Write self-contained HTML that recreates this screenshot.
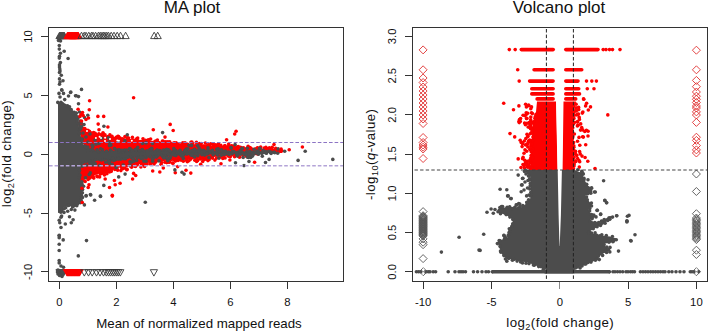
<!DOCTYPE html>
<html><head><meta charset="utf-8"><style>
html,body{margin:0;padding:0;background:#fff;overflow:hidden;width:709px;height:332px;}
svg{display:block;font-family:"Liberation Sans",sans-serif;}
</style></head><body>
<svg width="709" height="332" viewBox="0 0 709 332">
<rect width="709" height="332" fill="#fff"/>
<svg x="49" y="28" width="294" height="253" viewBox="49 28 294 253" overflow="hidden">
<polygon points="80.5,124.5 84.5,127.5 89.5,130.5 95.5,133.0 101.5,134.5 107.5,136.0 126.5,138.5 151.5,141.0 176.5,143.0 201.5,145.0 231.5,146.5 251.5,148.5 271.5,149.0 283.5,150.5 282.0,153.0 250.0,152.5 200.0,152.0 150.0,152.0 100.0,152.0 88.0,150.0 83.0,144.0 80.0,134.0 79.0,127.0" fill="#fd0101"/>
<circle cx="80.0" cy="122.7" r="1.8" fill="#fd0101"/>
<circle cx="79.3" cy="124.3" r="1.8" fill="#fd0101"/>
<circle cx="81.9" cy="124.5" r="1.8" fill="#fd0101"/>
<circle cx="81.8" cy="128.8" r="1.8" fill="#fd0101"/>
<circle cx="83.6" cy="128.5" r="1.8" fill="#fd0101"/>
<circle cx="83.1" cy="130.2" r="1.8" fill="#fd0101"/>
<circle cx="84.8" cy="128.6" r="1.8" fill="#fd0101"/>
<circle cx="87.9" cy="130.3" r="1.8" fill="#fd0101"/>
<circle cx="88.3" cy="131.8" r="1.8" fill="#fd0101"/>
<circle cx="89.4" cy="131.3" r="1.8" fill="#fd0101"/>
<circle cx="89.7" cy="132.5" r="1.8" fill="#fd0101"/>
<circle cx="93.6" cy="132.5" r="1.8" fill="#fd0101"/>
<circle cx="93.1" cy="133.5" r="1.8" fill="#fd0101"/>
<circle cx="95.2" cy="134.4" r="1.8" fill="#fd0101"/>
<circle cx="95.6" cy="135.2" r="1.8" fill="#fd0101"/>
<circle cx="95.2" cy="133.4" r="1.8" fill="#fd0101"/>
<circle cx="96.5" cy="135.7" r="1.8" fill="#fd0101"/>
<circle cx="98.9" cy="133.7" r="1.8" fill="#fd0101"/>
<circle cx="99.4" cy="136.6" r="1.8" fill="#fd0101"/>
<circle cx="99.9" cy="134.7" r="1.8" fill="#fd0101"/>
<circle cx="102.1" cy="136.7" r="1.8" fill="#fd0101"/>
<circle cx="103.0" cy="132.7" r="1.8" fill="#fd0101"/>
<circle cx="101.8" cy="134.7" r="1.8" fill="#fd0101"/>
<circle cx="103.2" cy="133.9" r="1.8" fill="#fd0101"/>
<circle cx="105.0" cy="134.9" r="1.8" fill="#fd0101"/>
<circle cx="107.9" cy="136.5" r="1.8" fill="#fd0101"/>
<circle cx="108.4" cy="136.9" r="1.8" fill="#fd0101"/>
<circle cx="109.9" cy="134.9" r="1.8" fill="#fd0101"/>
<circle cx="110.8" cy="136.6" r="1.8" fill="#fd0101"/>
<circle cx="112.0" cy="136.3" r="1.8" fill="#fd0101"/>
<circle cx="116.2" cy="137.2" r="1.8" fill="#fd0101"/>
<circle cx="116.9" cy="139.1" r="1.8" fill="#fd0101"/>
<circle cx="118.1" cy="136.5" r="1.8" fill="#fd0101"/>
<circle cx="118.7" cy="136.9" r="1.8" fill="#fd0101"/>
<circle cx="118.0" cy="136.4" r="1.8" fill="#fd0101"/>
<circle cx="117.6" cy="137.3" r="1.8" fill="#fd0101"/>
<circle cx="119.9" cy="138.5" r="1.8" fill="#fd0101"/>
<circle cx="120.1" cy="138.0" r="1.8" fill="#fd0101"/>
<circle cx="122.7" cy="138.8" r="1.8" fill="#fd0101"/>
<circle cx="125.0" cy="136.5" r="1.8" fill="#fd0101"/>
<circle cx="125.4" cy="140.6" r="1.8" fill="#fd0101"/>
<circle cx="128.5" cy="138.1" r="1.8" fill="#fd0101"/>
<circle cx="127.5" cy="137.9" r="1.8" fill="#fd0101"/>
<circle cx="132.4" cy="137.4" r="1.8" fill="#fd0101"/>
<circle cx="132.8" cy="141.1" r="1.8" fill="#fd0101"/>
<circle cx="134.8" cy="140.3" r="1.8" fill="#fd0101"/>
<circle cx="137.7" cy="138.0" r="1.8" fill="#fd0101"/>
<circle cx="136.7" cy="138.9" r="1.8" fill="#fd0101"/>
<circle cx="137.0" cy="139.7" r="1.8" fill="#fd0101"/>
<circle cx="143.0" cy="138.7" r="1.8" fill="#fd0101"/>
<circle cx="142.9" cy="141.6" r="1.8" fill="#fd0101"/>
<circle cx="145.6" cy="140.3" r="1.8" fill="#fd0101"/>
<circle cx="144.6" cy="142.0" r="1.8" fill="#fd0101"/>
<circle cx="148.3" cy="139.9" r="1.8" fill="#fd0101"/>
<circle cx="148.4" cy="141.0" r="1.8" fill="#fd0101"/>
<circle cx="149.3" cy="143.4" r="1.8" fill="#fd0101"/>
<circle cx="150.6" cy="139.1" r="1.8" fill="#fd0101"/>
<circle cx="154.5" cy="142.2" r="1.8" fill="#fd0101"/>
<circle cx="153.4" cy="142.3" r="1.8" fill="#fd0101"/>
<circle cx="155.6" cy="141.1" r="1.8" fill="#fd0101"/>
<circle cx="155.5" cy="142.0" r="1.8" fill="#fd0101"/>
<circle cx="157.4" cy="140.0" r="1.8" fill="#fd0101"/>
<circle cx="157.4" cy="142.8" r="1.8" fill="#fd0101"/>
<circle cx="158.0" cy="142.4" r="1.8" fill="#fd0101"/>
<circle cx="158.8" cy="142.9" r="1.8" fill="#fd0101"/>
<circle cx="163.3" cy="141.2" r="1.8" fill="#fd0101"/>
<circle cx="162.4" cy="141.1" r="1.8" fill="#fd0101"/>
<circle cx="162.2" cy="142.4" r="1.8" fill="#fd0101"/>
<circle cx="163.4" cy="143.7" r="1.8" fill="#fd0101"/>
<circle cx="165.8" cy="141.7" r="1.8" fill="#fd0101"/>
<circle cx="164.8" cy="143.3" r="1.8" fill="#fd0101"/>
<circle cx="167.8" cy="141.7" r="1.8" fill="#fd0101"/>
<circle cx="167.8" cy="144.7" r="1.8" fill="#fd0101"/>
<circle cx="169.7" cy="141.9" r="1.8" fill="#fd0101"/>
<circle cx="169.6" cy="143.5" r="1.8" fill="#fd0101"/>
<circle cx="172.7" cy="145.1" r="1.8" fill="#fd0101"/>
<circle cx="174.5" cy="143.3" r="1.8" fill="#fd0101"/>
<circle cx="172.5" cy="143.5" r="1.8" fill="#fd0101"/>
<circle cx="174.1" cy="142.9" r="1.8" fill="#fd0101"/>
<circle cx="176.1" cy="142.7" r="1.8" fill="#fd0101"/>
<circle cx="177.7" cy="143.9" r="1.8" fill="#fd0101"/>
<circle cx="179.6" cy="145.9" r="1.8" fill="#fd0101"/>
<circle cx="182.8" cy="142.9" r="1.8" fill="#fd0101"/>
<circle cx="182.3" cy="143.9" r="1.8" fill="#fd0101"/>
<circle cx="185.0" cy="142.8" r="1.8" fill="#fd0101"/>
<circle cx="184.4" cy="145.1" r="1.8" fill="#fd0101"/>
<circle cx="187.6" cy="144.2" r="1.8" fill="#fd0101"/>
<circle cx="186.6" cy="144.2" r="1.8" fill="#fd0101"/>
<circle cx="186.8" cy="144.6" r="1.8" fill="#fd0101"/>
<circle cx="190.9" cy="142.3" r="1.8" fill="#fd0101"/>
<circle cx="191.9" cy="142.1" r="1.8" fill="#fd0101"/>
<circle cx="192.7" cy="143.8" r="1.8" fill="#fd0101"/>
<circle cx="196.4" cy="142.4" r="1.8" fill="#fd0101"/>
<circle cx="195.6" cy="145.7" r="1.8" fill="#fd0101"/>
<circle cx="199.0" cy="144.3" r="1.8" fill="#fd0101"/>
<circle cx="198.9" cy="144.7" r="1.8" fill="#fd0101"/>
<circle cx="199.6" cy="143.6" r="1.8" fill="#fd0101"/>
<circle cx="199.6" cy="145.9" r="1.8" fill="#fd0101"/>
<circle cx="201.2" cy="143.5" r="1.8" fill="#fd0101"/>
<circle cx="202.9" cy="146.1" r="1.8" fill="#fd0101"/>
<circle cx="205.4" cy="143.1" r="1.8" fill="#fd0101"/>
<circle cx="204.2" cy="146.1" r="1.8" fill="#fd0101"/>
<circle cx="207.7" cy="145.3" r="1.8" fill="#fd0101"/>
<circle cx="209.2" cy="145.2" r="1.8" fill="#fd0101"/>
<circle cx="208.3" cy="144.7" r="1.8" fill="#fd0101"/>
<circle cx="210.8" cy="143.9" r="1.8" fill="#fd0101"/>
<circle cx="209.3" cy="147.6" r="1.8" fill="#fd0101"/>
<circle cx="213.2" cy="144.0" r="1.8" fill="#fd0101"/>
<circle cx="213.6" cy="145.3" r="1.8" fill="#fd0101"/>
<circle cx="216.0" cy="146.6" r="1.8" fill="#fd0101"/>
<circle cx="214.3" cy="148.2" r="1.8" fill="#fd0101"/>
<circle cx="215.4" cy="144.7" r="1.8" fill="#fd0101"/>
<circle cx="216.6" cy="145.6" r="1.8" fill="#fd0101"/>
<circle cx="218.4" cy="143.8" r="1.8" fill="#fd0101"/>
<circle cx="217.9" cy="145.1" r="1.8" fill="#fd0101"/>
<circle cx="220.8" cy="145.4" r="1.8" fill="#fd0101"/>
<circle cx="221.0" cy="147.6" r="1.8" fill="#fd0101"/>
<circle cx="223.3" cy="147.1" r="1.8" fill="#fd0101"/>
<circle cx="224.3" cy="147.5" r="1.8" fill="#fd0101"/>
<circle cx="225.0" cy="145.9" r="1.8" fill="#fd0101"/>
<circle cx="224.8" cy="145.8" r="1.8" fill="#fd0101"/>
<circle cx="227.9" cy="146.7" r="1.8" fill="#fd0101"/>
<circle cx="227.2" cy="148.6" r="1.8" fill="#fd0101"/>
<circle cx="228.7" cy="144.1" r="1.8" fill="#fd0101"/>
<circle cx="229.0" cy="145.9" r="1.8" fill="#fd0101"/>
<circle cx="232.0" cy="146.4" r="1.8" fill="#fd0101"/>
<circle cx="231.6" cy="145.8" r="1.8" fill="#fd0101"/>
<circle cx="233.6" cy="146.2" r="1.8" fill="#fd0101"/>
<circle cx="232.6" cy="148.5" r="1.8" fill="#fd0101"/>
<circle cx="233.9" cy="147.0" r="1.8" fill="#fd0101"/>
<circle cx="235.1" cy="149.5" r="1.8" fill="#fd0101"/>
<circle cx="236.9" cy="147.1" r="1.8" fill="#fd0101"/>
<circle cx="237.3" cy="148.5" r="1.8" fill="#fd0101"/>
<circle cx="237.6" cy="147.4" r="1.8" fill="#fd0101"/>
<circle cx="238.3" cy="146.5" r="1.8" fill="#fd0101"/>
<circle cx="240.5" cy="147.4" r="1.8" fill="#fd0101"/>
<circle cx="239.6" cy="148.4" r="1.8" fill="#fd0101"/>
<circle cx="242.0" cy="148.4" r="1.8" fill="#fd0101"/>
<circle cx="244.1" cy="150.2" r="1.8" fill="#fd0101"/>
<circle cx="244.8" cy="148.8" r="1.8" fill="#fd0101"/>
<circle cx="243.5" cy="147.7" r="1.8" fill="#fd0101"/>
<circle cx="248.1" cy="146.3" r="1.8" fill="#fd0101"/>
<circle cx="249.0" cy="147.9" r="1.8" fill="#fd0101"/>
<circle cx="250.6" cy="148.4" r="1.8" fill="#fd0101"/>
<circle cx="250.6" cy="149.3" r="1.8" fill="#fd0101"/>
<circle cx="250.0" cy="147.6" r="1.8" fill="#fd0101"/>
<circle cx="249.2" cy="148.8" r="1.8" fill="#fd0101"/>
<circle cx="251.4" cy="148.7" r="1.8" fill="#fd0101"/>
<circle cx="251.7" cy="150.9" r="1.8" fill="#fd0101"/>
<circle cx="255.1" cy="149.1" r="1.8" fill="#fd0101"/>
<circle cx="257.7" cy="147.7" r="1.8" fill="#fd0101"/>
<circle cx="256.9" cy="148.2" r="1.8" fill="#fd0101"/>
<circle cx="260.7" cy="147.1" r="1.8" fill="#fd0101"/>
<circle cx="259.7" cy="148.5" r="1.8" fill="#fd0101"/>
<circle cx="264.6" cy="149.6" r="1.8" fill="#fd0101"/>
<circle cx="264.2" cy="148.1" r="1.8" fill="#fd0101"/>
<circle cx="266.1" cy="148.6" r="1.8" fill="#fd0101"/>
<circle cx="264.4" cy="151.2" r="1.8" fill="#fd0101"/>
<circle cx="265.9" cy="147.4" r="1.8" fill="#fd0101"/>
<circle cx="267.4" cy="148.9" r="1.8" fill="#fd0101"/>
<circle cx="269.4" cy="147.9" r="1.8" fill="#fd0101"/>
<circle cx="268.5" cy="148.8" r="1.8" fill="#fd0101"/>
<circle cx="271.1" cy="149.9" r="1.8" fill="#fd0101"/>
<circle cx="272.2" cy="147.2" r="1.8" fill="#fd0101"/>
<circle cx="271.9" cy="149.3" r="1.8" fill="#fd0101"/>
<circle cx="275.4" cy="149.7" r="1.8" fill="#fd0101"/>
<circle cx="274.3" cy="150.5" r="1.8" fill="#fd0101"/>
<circle cx="275.7" cy="148.3" r="1.8" fill="#fd0101"/>
<circle cx="278.6" cy="150.6" r="1.8" fill="#fd0101"/>
<circle cx="277.7" cy="150.0" r="1.8" fill="#fd0101"/>
<circle cx="281.9" cy="150.8" r="1.8" fill="#fd0101"/>
<polygon points="80.0,159.0 84.0,158.8 88.0,158.5 92.0,158.1 96.0,157.8 100.0,157.4 104.0,157.0 108.0,156.7 112.0,156.3 116.0,156.1 120.0,155.8 124.0,155.4 128.0,155.2 132.0,154.8 136.0,154.6 140.0,154.2 144.0,153.9 148.0,153.7 152.0,153.4 156.0,153.3 160.0,153.1 164.0,152.9 168.0,152.8 172.0,152.6 176.0,152.5 180.0,152.3 184.0,152.1 188.0,152.0 192.0,151.8 196.0,151.7 200.0,151.5 204.0,151.4 208.0,151.4 212.0,151.3 216.0,151.2 220.0,151.2 224.0,151.1 228.0,151.0 232.0,150.9 236.0,150.7 240.0,150.5 244.0,150.3 248.0,150.1 252.0,150.0 256.0,150.0 260.0,150.0 260.0,152.5 256.0,152.7 252.0,152.9 248.0,153.2 244.0,153.4 240.0,153.8 236.0,154.1 232.0,154.3 228.0,154.8 224.0,155.5 220.0,156.2 216.0,156.8 212.0,157.3 208.0,157.7 204.0,158.1 200.0,158.5 196.0,158.7 192.0,159.0 188.0,159.2 184.0,159.5 180.0,159.7 176.0,159.9 172.0,160.2 168.0,160.6 164.0,160.9 160.0,161.2 156.0,161.5 152.0,161.8 148.0,162.4 144.0,163.2 140.0,164.0 136.0,164.7 132.0,165.4 128.0,166.1 124.0,166.8 120.0,167.5 116.0,168.5 112.0,169.5 108.0,170.7 104.0,172.1 100.0,173.5 96.0,174.8 92.0,176.0 88.0,177.7 84.0,180.2 80.0,183.5" fill="#fd0101"/>
<circle cx="79.1" cy="184.5" r="1.8" fill="#fd0101"/>
<circle cx="82.2" cy="185.3" r="1.8" fill="#fd0101"/>
<circle cx="82.9" cy="180.8" r="1.8" fill="#fd0101"/>
<circle cx="85.2" cy="181.5" r="1.8" fill="#fd0101"/>
<circle cx="86.4" cy="177.1" r="1.8" fill="#fd0101"/>
<circle cx="88.3" cy="178.5" r="1.8" fill="#fd0101"/>
<circle cx="88.1" cy="179.4" r="1.8" fill="#fd0101"/>
<circle cx="89.5" cy="177.1" r="1.8" fill="#fd0101"/>
<circle cx="89.6" cy="178.3" r="1.8" fill="#fd0101"/>
<circle cx="92.3" cy="177.1" r="1.8" fill="#fd0101"/>
<circle cx="91.1" cy="176.1" r="1.8" fill="#fd0101"/>
<circle cx="93.8" cy="178.1" r="1.8" fill="#fd0101"/>
<circle cx="93.0" cy="176.2" r="1.8" fill="#fd0101"/>
<circle cx="96.9" cy="176.0" r="1.8" fill="#fd0101"/>
<circle cx="97.5" cy="176.8" r="1.8" fill="#fd0101"/>
<circle cx="99.6" cy="176.9" r="1.8" fill="#fd0101"/>
<circle cx="100.3" cy="173.9" r="1.8" fill="#fd0101"/>
<circle cx="102.3" cy="173.1" r="1.8" fill="#fd0101"/>
<circle cx="101.1" cy="173.5" r="1.8" fill="#fd0101"/>
<circle cx="104.4" cy="174.9" r="1.8" fill="#fd0101"/>
<circle cx="104.5" cy="172.2" r="1.8" fill="#fd0101"/>
<circle cx="106.9" cy="173.8" r="1.8" fill="#fd0101"/>
<circle cx="107.4" cy="171.5" r="1.8" fill="#fd0101"/>
<circle cx="108.9" cy="170.9" r="1.8" fill="#fd0101"/>
<circle cx="109.4" cy="172.0" r="1.8" fill="#fd0101"/>
<circle cx="110.9" cy="171.4" r="1.8" fill="#fd0101"/>
<circle cx="111.4" cy="169.6" r="1.8" fill="#fd0101"/>
<circle cx="111.1" cy="171.2" r="1.8" fill="#fd0101"/>
<circle cx="114.8" cy="169.4" r="1.8" fill="#fd0101"/>
<circle cx="115.0" cy="167.6" r="1.8" fill="#fd0101"/>
<circle cx="115.4" cy="168.7" r="1.8" fill="#fd0101"/>
<circle cx="115.1" cy="168.1" r="1.8" fill="#fd0101"/>
<circle cx="117.7" cy="170.3" r="1.8" fill="#fd0101"/>
<circle cx="117.0" cy="168.9" r="1.8" fill="#fd0101"/>
<circle cx="120.9" cy="170.6" r="1.8" fill="#fd0101"/>
<circle cx="121.7" cy="167.8" r="1.8" fill="#fd0101"/>
<circle cx="123.1" cy="168.6" r="1.8" fill="#fd0101"/>
<circle cx="124.8" cy="168.0" r="1.8" fill="#fd0101"/>
<circle cx="126.8" cy="169.8" r="1.8" fill="#fd0101"/>
<circle cx="126.6" cy="165.7" r="1.8" fill="#fd0101"/>
<circle cx="127.1" cy="169.4" r="1.8" fill="#fd0101"/>
<circle cx="130.5" cy="166.1" r="1.8" fill="#fd0101"/>
<circle cx="129.5" cy="164.3" r="1.8" fill="#fd0101"/>
<circle cx="131.5" cy="166.4" r="1.8" fill="#fd0101"/>
<circle cx="131.6" cy="167.3" r="1.8" fill="#fd0101"/>
<circle cx="134.8" cy="166.3" r="1.8" fill="#fd0101"/>
<circle cx="135.5" cy="166.5" r="1.8" fill="#fd0101"/>
<circle cx="137.5" cy="164.7" r="1.8" fill="#fd0101"/>
<circle cx="140.9" cy="166.9" r="1.8" fill="#fd0101"/>
<circle cx="142.6" cy="164.4" r="1.8" fill="#fd0101"/>
<circle cx="141.7" cy="164.4" r="1.8" fill="#fd0101"/>
<circle cx="144.6" cy="166.4" r="1.8" fill="#fd0101"/>
<circle cx="144.5" cy="164.2" r="1.8" fill="#fd0101"/>
<circle cx="145.1" cy="164.4" r="1.8" fill="#fd0101"/>
<circle cx="147.0" cy="161.6" r="1.8" fill="#fd0101"/>
<circle cx="147.2" cy="164.0" r="1.8" fill="#fd0101"/>
<circle cx="150.4" cy="163.9" r="1.8" fill="#fd0101"/>
<circle cx="149.8" cy="161.7" r="1.8" fill="#fd0101"/>
<circle cx="152.5" cy="162.4" r="1.8" fill="#fd0101"/>
<circle cx="151.2" cy="160.8" r="1.8" fill="#fd0101"/>
<circle cx="154.1" cy="163.9" r="1.8" fill="#fd0101"/>
<circle cx="153.4" cy="162.7" r="1.8" fill="#fd0101"/>
<circle cx="155.3" cy="161.9" r="1.8" fill="#fd0101"/>
<circle cx="155.7" cy="162.0" r="1.8" fill="#fd0101"/>
<circle cx="157.5" cy="160.4" r="1.8" fill="#fd0101"/>
<circle cx="161.0" cy="164.3" r="1.8" fill="#fd0101"/>
<circle cx="160.6" cy="160.2" r="1.8" fill="#fd0101"/>
<circle cx="161.6" cy="162.5" r="1.8" fill="#fd0101"/>
<circle cx="164.9" cy="162.3" r="1.8" fill="#fd0101"/>
<circle cx="166.7" cy="162.6" r="1.8" fill="#fd0101"/>
<circle cx="166.6" cy="159.3" r="1.8" fill="#fd0101"/>
<circle cx="168.2" cy="161.9" r="1.8" fill="#fd0101"/>
<circle cx="167.7" cy="162.0" r="1.8" fill="#fd0101"/>
<circle cx="169.5" cy="161.8" r="1.8" fill="#fd0101"/>
<circle cx="169.4" cy="162.3" r="1.8" fill="#fd0101"/>
<circle cx="172.4" cy="163.1" r="1.8" fill="#fd0101"/>
<circle cx="171.4" cy="159.4" r="1.8" fill="#fd0101"/>
<circle cx="173.1" cy="163.2" r="1.8" fill="#fd0101"/>
<circle cx="174.1" cy="159.7" r="1.8" fill="#fd0101"/>
<circle cx="175.3" cy="161.0" r="1.8" fill="#fd0101"/>
<circle cx="175.6" cy="160.8" r="1.8" fill="#fd0101"/>
<circle cx="178.1" cy="160.5" r="1.8" fill="#fd0101"/>
<circle cx="180.7" cy="159.7" r="1.8" fill="#fd0101"/>
<circle cx="179.4" cy="159.1" r="1.8" fill="#fd0101"/>
<circle cx="181.0" cy="159.9" r="1.8" fill="#fd0101"/>
<circle cx="182.6" cy="160.1" r="1.8" fill="#fd0101"/>
<circle cx="183.3" cy="161.3" r="1.8" fill="#fd0101"/>
<circle cx="186.3" cy="159.7" r="1.8" fill="#fd0101"/>
<circle cx="186.2" cy="159.9" r="1.8" fill="#fd0101"/>
<circle cx="187.3" cy="161.7" r="1.8" fill="#fd0101"/>
<circle cx="188.9" cy="160.7" r="1.8" fill="#fd0101"/>
<circle cx="190.6" cy="159.2" r="1.8" fill="#fd0101"/>
<circle cx="189.3" cy="157.7" r="1.8" fill="#fd0101"/>
<circle cx="191.1" cy="157.6" r="1.8" fill="#fd0101"/>
<circle cx="194.8" cy="160.2" r="1.8" fill="#fd0101"/>
<circle cx="196.6" cy="161.5" r="1.8" fill="#fd0101"/>
<circle cx="196.7" cy="157.7" r="1.8" fill="#fd0101"/>
<circle cx="197.4" cy="160.7" r="1.8" fill="#fd0101"/>
<circle cx="197.8" cy="160.1" r="1.8" fill="#fd0101"/>
<circle cx="200.4" cy="158.9" r="1.8" fill="#fd0101"/>
<circle cx="200.1" cy="157.7" r="1.8" fill="#fd0101"/>
<circle cx="202.7" cy="161.4" r="1.8" fill="#fd0101"/>
<circle cx="202.1" cy="158.0" r="1.8" fill="#fd0101"/>
<circle cx="203.8" cy="159.6" r="1.8" fill="#fd0101"/>
<circle cx="204.3" cy="158.4" r="1.8" fill="#fd0101"/>
<circle cx="205.0" cy="159.2" r="1.8" fill="#fd0101"/>
<circle cx="205.5" cy="157.1" r="1.8" fill="#fd0101"/>
<circle cx="207.9" cy="160.6" r="1.8" fill="#fd0101"/>
<circle cx="207.2" cy="159.2" r="1.8" fill="#fd0101"/>
<circle cx="209.2" cy="159.5" r="1.8" fill="#fd0101"/>
<circle cx="209.1" cy="157.2" r="1.8" fill="#fd0101"/>
<circle cx="212.5" cy="158.1" r="1.8" fill="#fd0101"/>
<circle cx="211.1" cy="157.4" r="1.8" fill="#fd0101"/>
<circle cx="214.9" cy="160.1" r="1.8" fill="#fd0101"/>
<circle cx="216.6" cy="158.1" r="1.8" fill="#fd0101"/>
<circle cx="218.9" cy="155.2" r="1.8" fill="#fd0101"/>
<circle cx="220.6" cy="156.4" r="1.8" fill="#fd0101"/>
<circle cx="219.7" cy="155.4" r="1.8" fill="#fd0101"/>
<circle cx="222.8" cy="158.4" r="1.8" fill="#fd0101"/>
<circle cx="224.0" cy="155.8" r="1.8" fill="#fd0101"/>
<circle cx="223.5" cy="155.6" r="1.8" fill="#fd0101"/>
<circle cx="225.1" cy="158.0" r="1.8" fill="#fd0101"/>
<circle cx="226.9" cy="154.7" r="1.8" fill="#fd0101"/>
<circle cx="228.6" cy="156.3" r="1.8" fill="#fd0101"/>
<circle cx="230.3" cy="156.7" r="1.8" fill="#fd0101"/>
<circle cx="232.2" cy="154.8" r="1.8" fill="#fd0101"/>
<circle cx="233.0" cy="154.0" r="1.8" fill="#fd0101"/>
<circle cx="234.6" cy="156.8" r="1.8" fill="#fd0101"/>
<circle cx="235.7" cy="154.9" r="1.8" fill="#fd0101"/>
<circle cx="235.4" cy="153.3" r="1.8" fill="#fd0101"/>
<circle cx="238.6" cy="156.5" r="1.8" fill="#fd0101"/>
<circle cx="239.0" cy="153.7" r="1.8" fill="#fd0101"/>
<circle cx="239.6" cy="157.2" r="1.8" fill="#fd0101"/>
<circle cx="239.3" cy="153.5" r="1.8" fill="#fd0101"/>
<circle cx="242.0" cy="154.0" r="1.8" fill="#fd0101"/>
<circle cx="241.5" cy="153.2" r="1.8" fill="#fd0101"/>
<circle cx="243.0" cy="155.7" r="1.8" fill="#fd0101"/>
<circle cx="243.7" cy="154.6" r="1.8" fill="#fd0101"/>
<circle cx="246.2" cy="156.1" r="1.8" fill="#fd0101"/>
<circle cx="245.9" cy="154.7" r="1.8" fill="#fd0101"/>
<circle cx="247.3" cy="154.7" r="1.8" fill="#fd0101"/>
<circle cx="250.7" cy="153.8" r="1.8" fill="#fd0101"/>
<circle cx="249.5" cy="154.9" r="1.8" fill="#fd0101"/>
<circle cx="252.1" cy="155.2" r="1.8" fill="#fd0101"/>
<circle cx="251.9" cy="151.5" r="1.8" fill="#fd0101"/>
<circle cx="253.5" cy="153.1" r="1.8" fill="#fd0101"/>
<circle cx="254.1" cy="153.3" r="1.8" fill="#fd0101"/>
<circle cx="255.1" cy="153.5" r="1.8" fill="#fd0101"/>
<circle cx="256.1" cy="151.3" r="1.8" fill="#fd0101"/>
<circle cx="257.4" cy="154.0" r="1.8" fill="#fd0101"/>
<circle cx="258.3" cy="151.7" r="1.8" fill="#fd0101"/>
<polygon points="58.0,103.0 60.0,101.5 62.0,102.0 66.0,104.0 69.5,107.0 74.5,112.0 76.7,117.0 78.0,122.0 79.0,127.0 80.0,132.0 81.0,137.0 82.0,142.0 84.0,147.0 90.0,149.5 96.0,150.5 106.0,151.0 114.0,151.0 122.0,151.0 130.0,151.0 138.0,150.8 146.0,150.6 154.0,150.5 162.0,150.6 170.0,150.7 178.0,150.8 186.0,150.9 194.0,150.9 202.0,151.0 210.0,151.1 218.0,151.2 226.0,151.3 234.0,151.3 242.0,151.4 250.0,151.5 258.0,151.7 266.0,151.9 274.0,152.2 279.0,153.0 276.0,153.0 268.0,153.0 260.0,153.0 252.0,153.0 244.0,153.3 236.0,153.7 228.0,154.0 220.0,154.2 212.0,154.3 204.0,154.4 196.0,154.7 188.0,155.0 180.0,155.3 172.0,155.6 164.0,155.9 156.0,156.3 148.0,156.7 140.0,157.2 132.0,157.8 124.0,158.4 116.0,159.1 108.0,159.7 100.0,160.4 92.0,161.1 82.0,164.0 80.5,170.0 80.5,180.0 82.6,186.0 82.0,192.0 81.5,200.0 80.5,203.0 78.5,205.3 70.0,206.5 64.0,207.0 63.0,210.0 60.5,212.5 58.0,213.0" fill="#4c4c4c"/>
<circle cx="57.8" cy="102.4" r="1.8" fill="#4c4c4c"/>
<circle cx="61.0" cy="102.2" r="1.8" fill="#4c4c4c"/>
<circle cx="62.5" cy="103.7" r="1.8" fill="#4c4c4c"/>
<circle cx="67.5" cy="105.9" r="1.8" fill="#4c4c4c"/>
<circle cx="69.5" cy="106.7" r="1.8" fill="#4c4c4c"/>
<circle cx="71.2" cy="109.5" r="1.8" fill="#4c4c4c"/>
<circle cx="75.5" cy="114.0" r="1.8" fill="#4c4c4c"/>
<circle cx="75.5" cy="115.7" r="1.8" fill="#4c4c4c"/>
<circle cx="77.7" cy="118.4" r="1.8" fill="#4c4c4c"/>
<circle cx="78.5" cy="123.9" r="1.8" fill="#4c4c4c"/>
<circle cx="80.0" cy="126.5" r="1.8" fill="#4c4c4c"/>
<circle cx="79.5" cy="133.4" r="1.8" fill="#4c4c4c"/>
<circle cx="82.2" cy="139.4" r="1.8" fill="#4c4c4c"/>
<circle cx="82.1" cy="142.7" r="1.8" fill="#4c4c4c"/>
<circle cx="83.9" cy="146.3" r="1.8" fill="#4c4c4c"/>
<circle cx="86.3" cy="147.4" r="1.8" fill="#4c4c4c"/>
<circle cx="89.0" cy="149.7" r="1.8" fill="#4c4c4c"/>
<circle cx="91.3" cy="149.8" r="1.8" fill="#4c4c4c"/>
<circle cx="92.9" cy="150.4" r="1.8" fill="#4c4c4c"/>
<circle cx="97.1" cy="149.7" r="1.8" fill="#4c4c4c"/>
<circle cx="98.4" cy="151.7" r="1.8" fill="#4c4c4c"/>
<circle cx="102.5" cy="149.7" r="1.8" fill="#4c4c4c"/>
<circle cx="106.5" cy="151.3" r="1.8" fill="#4c4c4c"/>
<circle cx="110.4" cy="150.0" r="1.8" fill="#4c4c4c"/>
<circle cx="112.0" cy="151.8" r="1.8" fill="#4c4c4c"/>
<circle cx="116.3" cy="150.0" r="1.8" fill="#4c4c4c"/>
<circle cx="119.0" cy="152.1" r="1.8" fill="#4c4c4c"/>
<circle cx="118.8" cy="150.1" r="1.8" fill="#4c4c4c"/>
<circle cx="122.9" cy="151.7" r="1.8" fill="#4c4c4c"/>
<circle cx="126.5" cy="151.3" r="1.8" fill="#4c4c4c"/>
<circle cx="126.8" cy="150.0" r="1.8" fill="#4c4c4c"/>
<circle cx="130.5" cy="150.5" r="1.8" fill="#4c4c4c"/>
<circle cx="132.2" cy="150.3" r="1.8" fill="#4c4c4c"/>
<circle cx="136.3" cy="150.5" r="1.8" fill="#4c4c4c"/>
<circle cx="139.6" cy="150.8" r="1.8" fill="#4c4c4c"/>
<circle cx="142.3" cy="149.6" r="1.8" fill="#4c4c4c"/>
<circle cx="143.8" cy="151.3" r="1.8" fill="#4c4c4c"/>
<circle cx="147.0" cy="150.7" r="1.8" fill="#4c4c4c"/>
<circle cx="149.9" cy="149.6" r="1.8" fill="#4c4c4c"/>
<circle cx="151.9" cy="149.4" r="1.8" fill="#4c4c4c"/>
<circle cx="155.0" cy="151.7" r="1.8" fill="#4c4c4c"/>
<circle cx="156.7" cy="150.5" r="1.8" fill="#4c4c4c"/>
<circle cx="159.9" cy="150.6" r="1.8" fill="#4c4c4c"/>
<circle cx="163.4" cy="150.1" r="1.8" fill="#4c4c4c"/>
<circle cx="165.7" cy="150.0" r="1.8" fill="#4c4c4c"/>
<circle cx="168.4" cy="149.7" r="1.8" fill="#4c4c4c"/>
<circle cx="170.0" cy="151.4" r="1.8" fill="#4c4c4c"/>
<circle cx="174.5" cy="151.0" r="1.8" fill="#4c4c4c"/>
<circle cx="175.7" cy="150.5" r="1.8" fill="#4c4c4c"/>
<circle cx="178.4" cy="151.7" r="1.8" fill="#4c4c4c"/>
<circle cx="180.0" cy="150.2" r="1.8" fill="#4c4c4c"/>
<circle cx="184.8" cy="150.6" r="1.8" fill="#4c4c4c"/>
<circle cx="186.8" cy="150.8" r="1.8" fill="#4c4c4c"/>
<circle cx="190.1" cy="151.5" r="1.8" fill="#4c4c4c"/>
<circle cx="192.0" cy="150.5" r="1.8" fill="#4c4c4c"/>
<circle cx="195.1" cy="151.3" r="1.8" fill="#4c4c4c"/>
<circle cx="197.1" cy="150.8" r="1.8" fill="#4c4c4c"/>
<circle cx="200.8" cy="150.1" r="1.8" fill="#4c4c4c"/>
<circle cx="203.7" cy="150.4" r="1.8" fill="#4c4c4c"/>
<circle cx="204.5" cy="151.5" r="1.8" fill="#4c4c4c"/>
<circle cx="207.9" cy="150.3" r="1.8" fill="#4c4c4c"/>
<circle cx="210.0" cy="151.2" r="1.8" fill="#4c4c4c"/>
<circle cx="212.5" cy="150.4" r="1.8" fill="#4c4c4c"/>
<circle cx="217.4" cy="150.2" r="1.8" fill="#4c4c4c"/>
<circle cx="218.6" cy="150.9" r="1.8" fill="#4c4c4c"/>
<circle cx="222.9" cy="151.8" r="1.8" fill="#4c4c4c"/>
<circle cx="223.3" cy="151.6" r="1.8" fill="#4c4c4c"/>
<circle cx="225.5" cy="151.0" r="1.8" fill="#4c4c4c"/>
<circle cx="228.5" cy="152.0" r="1.8" fill="#4c4c4c"/>
<circle cx="232.4" cy="151.6" r="1.8" fill="#4c4c4c"/>
<circle cx="233.9" cy="151.6" r="1.8" fill="#4c4c4c"/>
<circle cx="237.9" cy="152.4" r="1.8" fill="#4c4c4c"/>
<circle cx="240.2" cy="152.0" r="1.8" fill="#4c4c4c"/>
<circle cx="242.0" cy="152.0" r="1.8" fill="#4c4c4c"/>
<circle cx="246.7" cy="151.9" r="1.8" fill="#4c4c4c"/>
<circle cx="249.1" cy="151.8" r="1.8" fill="#4c4c4c"/>
<circle cx="250.3" cy="151.8" r="1.8" fill="#4c4c4c"/>
<circle cx="252.6" cy="152.2" r="1.8" fill="#4c4c4c"/>
<circle cx="256.8" cy="151.1" r="1.8" fill="#4c4c4c"/>
<circle cx="258.6" cy="152.0" r="1.8" fill="#4c4c4c"/>
<circle cx="261.7" cy="152.8" r="1.8" fill="#4c4c4c"/>
<circle cx="264.0" cy="152.5" r="1.8" fill="#4c4c4c"/>
<circle cx="266.6" cy="153.1" r="1.8" fill="#4c4c4c"/>
<circle cx="268.8" cy="151.2" r="1.8" fill="#4c4c4c"/>
<circle cx="273.6" cy="152.2" r="1.8" fill="#4c4c4c"/>
<circle cx="274.5" cy="152.3" r="1.8" fill="#4c4c4c"/>
<circle cx="277.7" cy="153.3" r="1.8" fill="#4c4c4c"/>
<circle cx="274.7" cy="152.8" r="1.8" fill="#4c4c4c"/>
<circle cx="271.1" cy="153.4" r="1.8" fill="#4c4c4c"/>
<circle cx="270.7" cy="152.1" r="1.8" fill="#4c4c4c"/>
<circle cx="266.1" cy="151.9" r="1.8" fill="#4c4c4c"/>
<circle cx="264.7" cy="151.8" r="1.8" fill="#4c4c4c"/>
<circle cx="261.8" cy="153.5" r="1.8" fill="#4c4c4c"/>
<circle cx="258.9" cy="152.3" r="1.8" fill="#4c4c4c"/>
<circle cx="257.2" cy="153.1" r="1.8" fill="#4c4c4c"/>
<circle cx="255.0" cy="152.7" r="1.8" fill="#4c4c4c"/>
<circle cx="250.8" cy="153.7" r="1.8" fill="#4c4c4c"/>
<circle cx="248.4" cy="153.1" r="1.8" fill="#4c4c4c"/>
<circle cx="245.1" cy="154.3" r="1.8" fill="#4c4c4c"/>
<circle cx="243.8" cy="154.1" r="1.8" fill="#4c4c4c"/>
<circle cx="240.0" cy="153.0" r="1.8" fill="#4c4c4c"/>
<circle cx="236.9" cy="154.4" r="1.8" fill="#4c4c4c"/>
<circle cx="236.3" cy="153.2" r="1.8" fill="#4c4c4c"/>
<circle cx="232.1" cy="153.7" r="1.8" fill="#4c4c4c"/>
<circle cx="229.2" cy="154.5" r="1.8" fill="#4c4c4c"/>
<circle cx="226.9" cy="153.6" r="1.8" fill="#4c4c4c"/>
<circle cx="224.4" cy="154.4" r="1.8" fill="#4c4c4c"/>
<circle cx="221.3" cy="155.2" r="1.8" fill="#4c4c4c"/>
<circle cx="217.6" cy="155.0" r="1.8" fill="#4c4c4c"/>
<circle cx="216.6" cy="153.4" r="1.8" fill="#4c4c4c"/>
<circle cx="213.7" cy="153.1" r="1.8" fill="#4c4c4c"/>
<circle cx="213.1" cy="154.7" r="1.8" fill="#4c4c4c"/>
<circle cx="208.0" cy="153.5" r="1.8" fill="#4c4c4c"/>
<circle cx="207.0" cy="154.0" r="1.8" fill="#4c4c4c"/>
<circle cx="204.7" cy="155.1" r="1.8" fill="#4c4c4c"/>
<circle cx="202.0" cy="154.8" r="1.8" fill="#4c4c4c"/>
<circle cx="197.8" cy="155.6" r="1.8" fill="#4c4c4c"/>
<circle cx="195.6" cy="154.0" r="1.8" fill="#4c4c4c"/>
<circle cx="192.3" cy="155.4" r="1.8" fill="#4c4c4c"/>
<circle cx="190.9" cy="155.0" r="1.8" fill="#4c4c4c"/>
<circle cx="186.9" cy="154.1" r="1.8" fill="#4c4c4c"/>
<circle cx="183.5" cy="155.0" r="1.8" fill="#4c4c4c"/>
<circle cx="182.4" cy="155.2" r="1.8" fill="#4c4c4c"/>
<circle cx="180.0" cy="154.2" r="1.8" fill="#4c4c4c"/>
<circle cx="175.9" cy="155.6" r="1.8" fill="#4c4c4c"/>
<circle cx="174.4" cy="155.3" r="1.8" fill="#4c4c4c"/>
<circle cx="172.4" cy="154.6" r="1.8" fill="#4c4c4c"/>
<circle cx="168.6" cy="154.6" r="1.8" fill="#4c4c4c"/>
<circle cx="166.1" cy="156.9" r="1.8" fill="#4c4c4c"/>
<circle cx="164.6" cy="156.0" r="1.8" fill="#4c4c4c"/>
<circle cx="161.5" cy="155.0" r="1.8" fill="#4c4c4c"/>
<circle cx="157.8" cy="155.8" r="1.8" fill="#4c4c4c"/>
<circle cx="154.3" cy="156.3" r="1.8" fill="#4c4c4c"/>
<circle cx="153.1" cy="155.7" r="1.8" fill="#4c4c4c"/>
<circle cx="149.8" cy="156.7" r="1.8" fill="#4c4c4c"/>
<circle cx="146.2" cy="157.5" r="1.8" fill="#4c4c4c"/>
<circle cx="144.7" cy="156.4" r="1.8" fill="#4c4c4c"/>
<circle cx="143.0" cy="157.5" r="1.8" fill="#4c4c4c"/>
<circle cx="138.3" cy="156.9" r="1.8" fill="#4c4c4c"/>
<circle cx="137.1" cy="157.8" r="1.8" fill="#4c4c4c"/>
<circle cx="132.3" cy="158.3" r="1.8" fill="#4c4c4c"/>
<circle cx="130.7" cy="156.9" r="1.8" fill="#4c4c4c"/>
<circle cx="127.7" cy="157.3" r="1.8" fill="#4c4c4c"/>
<circle cx="125.5" cy="158.7" r="1.8" fill="#4c4c4c"/>
<circle cx="123.7" cy="158.8" r="1.8" fill="#4c4c4c"/>
<circle cx="120.7" cy="159.2" r="1.8" fill="#4c4c4c"/>
<circle cx="118.1" cy="158.2" r="1.8" fill="#4c4c4c"/>
<circle cx="114.8" cy="159.8" r="1.8" fill="#4c4c4c"/>
<circle cx="112.4" cy="158.2" r="1.8" fill="#4c4c4c"/>
<circle cx="110.4" cy="159.9" r="1.8" fill="#4c4c4c"/>
<circle cx="108.2" cy="160.4" r="1.8" fill="#4c4c4c"/>
<circle cx="103.9" cy="159.5" r="1.8" fill="#4c4c4c"/>
<circle cx="101.6" cy="160.0" r="1.8" fill="#4c4c4c"/>
<circle cx="100.0" cy="159.4" r="1.8" fill="#4c4c4c"/>
<circle cx="95.3" cy="159.8" r="1.8" fill="#4c4c4c"/>
<circle cx="93.6" cy="162.0" r="1.8" fill="#4c4c4c"/>
<circle cx="90.2" cy="161.0" r="1.8" fill="#4c4c4c"/>
<circle cx="89.7" cy="163.2" r="1.8" fill="#4c4c4c"/>
<circle cx="86.1" cy="161.8" r="1.8" fill="#4c4c4c"/>
<circle cx="82.8" cy="162.7" r="1.8" fill="#4c4c4c"/>
<circle cx="80.8" cy="164.5" r="1.8" fill="#4c4c4c"/>
<circle cx="82.3" cy="166.2" r="1.8" fill="#4c4c4c"/>
<circle cx="79.6" cy="170.6" r="1.8" fill="#4c4c4c"/>
<circle cx="79.9" cy="175.3" r="1.8" fill="#4c4c4c"/>
<circle cx="79.4" cy="177.7" r="1.8" fill="#4c4c4c"/>
<circle cx="81.8" cy="181.8" r="1.8" fill="#4c4c4c"/>
<circle cx="81.9" cy="183.7" r="1.8" fill="#4c4c4c"/>
<circle cx="83.6" cy="186.2" r="1.8" fill="#4c4c4c"/>
<circle cx="82.6" cy="189.6" r="1.8" fill="#4c4c4c"/>
<circle cx="82.4" cy="192.8" r="1.8" fill="#4c4c4c"/>
<circle cx="81.4" cy="195.3" r="1.8" fill="#4c4c4c"/>
<circle cx="82.5" cy="197.6" r="1.8" fill="#4c4c4c"/>
<circle cx="81.1" cy="200.3" r="1.8" fill="#4c4c4c"/>
<circle cx="80.4" cy="202.8" r="1.8" fill="#4c4c4c"/>
<circle cx="76.8" cy="205.8" r="1.8" fill="#4c4c4c"/>
<circle cx="74.4" cy="205.6" r="1.8" fill="#4c4c4c"/>
<circle cx="72.6" cy="207.0" r="1.8" fill="#4c4c4c"/>
<circle cx="68.5" cy="205.5" r="1.8" fill="#4c4c4c"/>
<circle cx="65.7" cy="207.7" r="1.8" fill="#4c4c4c"/>
<circle cx="64.1" cy="208.7" r="1.8" fill="#4c4c4c"/>
<circle cx="62.0" cy="210.8" r="1.8" fill="#4c4c4c"/>
<circle cx="60.8" cy="212.3" r="1.8" fill="#4c4c4c"/>
<circle cx="218.2" cy="148.8" r="1.8" fill="#4c4c4c"/>
<circle cx="259.6" cy="148.5" r="1.8" fill="#4c4c4c"/>
<circle cx="139.5" cy="150.8" r="1.8" fill="#4c4c4c"/>
<circle cx="135.6" cy="149.2" r="1.8" fill="#4c4c4c"/>
<circle cx="199.0" cy="147.7" r="1.8" fill="#4c4c4c"/>
<circle cx="257.9" cy="151.5" r="1.8" fill="#4c4c4c"/>
<circle cx="247.3" cy="148.2" r="1.8" fill="#4c4c4c"/>
<circle cx="254.0" cy="149.3" r="1.8" fill="#4c4c4c"/>
<circle cx="137.7" cy="147.4" r="1.8" fill="#4c4c4c"/>
<circle cx="242.2" cy="148.7" r="1.8" fill="#4c4c4c"/>
<circle cx="263.1" cy="150.4" r="1.8" fill="#4c4c4c"/>
<circle cx="100.7" cy="148.8" r="1.8" fill="#4c4c4c"/>
<circle cx="240.3" cy="150.6" r="1.8" fill="#4c4c4c"/>
<circle cx="231.0" cy="147.6" r="1.8" fill="#4c4c4c"/>
<circle cx="129.9" cy="148.6" r="1.8" fill="#4c4c4c"/>
<circle cx="216.8" cy="149.3" r="1.8" fill="#4c4c4c"/>
<circle cx="124.5" cy="150.0" r="1.8" fill="#4c4c4c"/>
<circle cx="231.2" cy="148.1" r="1.8" fill="#4c4c4c"/>
<circle cx="174.1" cy="150.4" r="1.8" fill="#4c4c4c"/>
<circle cx="242.1" cy="148.3" r="1.8" fill="#4c4c4c"/>
<circle cx="129.6" cy="148.7" r="1.8" fill="#4c4c4c"/>
<circle cx="259.8" cy="148.2" r="1.8" fill="#4c4c4c"/>
<circle cx="186.3" cy="149.0" r="1.8" fill="#4c4c4c"/>
<circle cx="199.5" cy="150.2" r="1.8" fill="#4c4c4c"/>
<circle cx="121.7" cy="150.3" r="1.8" fill="#4c4c4c"/>
<circle cx="221.4" cy="149.8" r="1.8" fill="#4c4c4c"/>
<circle cx="194.6" cy="149.3" r="1.8" fill="#4c4c4c"/>
<circle cx="185.4" cy="150.3" r="1.8" fill="#4c4c4c"/>
<circle cx="92.7" cy="147.0" r="1.8" fill="#4c4c4c"/>
<circle cx="157.3" cy="150.1" r="1.8" fill="#4c4c4c"/>
<circle cx="208.0" cy="147.9" r="1.8" fill="#4c4c4c"/>
<circle cx="114.6" cy="148.6" r="1.8" fill="#4c4c4c"/>
<circle cx="151.6" cy="148.4" r="1.8" fill="#4c4c4c"/>
<circle cx="88.0" cy="150.9" r="1.8" fill="#4c4c4c"/>
<circle cx="278.1" cy="148.9" r="1.8" fill="#4c4c4c"/>
<circle cx="169.6" cy="158.6" r="1.8" fill="#4c4c4c"/>
<circle cx="130.0" cy="161.9" r="1.8" fill="#4c4c4c"/>
<circle cx="159.0" cy="160.9" r="1.8" fill="#4c4c4c"/>
<circle cx="219.0" cy="158.3" r="1.8" fill="#4c4c4c"/>
<circle cx="253.6" cy="154.3" r="1.8" fill="#4c4c4c"/>
<circle cx="90.7" cy="162.2" r="1.8" fill="#4c4c4c"/>
<circle cx="115.8" cy="159.5" r="1.8" fill="#4c4c4c"/>
<circle cx="93.0" cy="163.8" r="1.8" fill="#4c4c4c"/>
<circle cx="237.2" cy="155.9" r="1.8" fill="#4c4c4c"/>
<circle cx="250.7" cy="157.5" r="1.8" fill="#4c4c4c"/>
<circle cx="95.3" cy="163.8" r="1.8" fill="#4c4c4c"/>
<circle cx="153.9" cy="156.9" r="1.8" fill="#4c4c4c"/>
<circle cx="252.8" cy="154.3" r="1.8" fill="#4c4c4c"/>
<circle cx="183.3" cy="158.4" r="1.8" fill="#4c4c4c"/>
<circle cx="252.3" cy="156.3" r="1.8" fill="#4c4c4c"/>
<circle cx="153.2" cy="158.6" r="1.8" fill="#4c4c4c"/>
<circle cx="112.1" cy="164.2" r="1.8" fill="#4c4c4c"/>
<circle cx="258.5" cy="154.1" r="1.8" fill="#4c4c4c"/>
<circle cx="90.8" cy="162.5" r="1.8" fill="#4c4c4c"/>
<circle cx="146.0" cy="161.3" r="1.8" fill="#4c4c4c"/>
<circle cx="243.2" cy="157.5" r="1.8" fill="#4c4c4c"/>
<circle cx="92.3" cy="165.0" r="1.8" fill="#4c4c4c"/>
<circle cx="208.9" cy="157.6" r="1.8" fill="#4c4c4c"/>
<circle cx="257.4" cy="153.3" r="1.8" fill="#4c4c4c"/>
<circle cx="109.5" cy="163.3" r="1.8" fill="#4c4c4c"/>
<circle cx="249.3" cy="156.4" r="1.8" fill="#4c4c4c"/>
<circle cx="136.6" cy="160.5" r="1.8" fill="#4c4c4c"/>
<circle cx="217.4" cy="154.7" r="1.8" fill="#4c4c4c"/>
<circle cx="141.0" cy="158.5" r="1.8" fill="#4c4c4c"/>
<circle cx="105.8" cy="162.3" r="1.8" fill="#4c4c4c"/>
<circle cx="113.7" cy="160.4" r="1.8" fill="#4c4c4c"/>
<circle cx="109.2" cy="163.0" r="1.8" fill="#4c4c4c"/>
<circle cx="86.2" cy="165.2" r="1.8" fill="#4c4c4c"/>
<circle cx="118.3" cy="159.1" r="1.8" fill="#4c4c4c"/>
<circle cx="247.3" cy="154.2" r="1.8" fill="#4c4c4c"/>
<circle cx="248.4" cy="157.4" r="1.8" fill="#4c4c4c"/>
<circle cx="240.4" cy="154.2" r="1.8" fill="#4c4c4c"/>
<circle cx="162.7" cy="156.5" r="1.8" fill="#4c4c4c"/>
<circle cx="247.5" cy="157.3" r="1.8" fill="#4c4c4c"/>
<circle cx="194.6" cy="157.0" r="1.8" fill="#4c4c4c"/>
<circle cx="143.8" cy="161.1" r="1.8" fill="#4c4c4c"/>
<circle cx="168.0" cy="158.9" r="1.8" fill="#4c4c4c"/>
<circle cx="109.1" cy="160.7" r="1.8" fill="#4c4c4c"/>
<circle cx="94.0" cy="164.5" r="1.8" fill="#4c4c4c"/>
<circle cx="181.4" cy="156.0" r="1.8" fill="#4c4c4c"/>
<circle cx="237.2" cy="155.0" r="1.8" fill="#4c4c4c"/>
<circle cx="156.5" cy="157.0" r="1.8" fill="#4c4c4c"/>
<circle cx="131.7" cy="162.1" r="1.8" fill="#4c4c4c"/>
<circle cx="142.9" cy="157.9" r="1.8" fill="#4c4c4c"/>
<circle cx="170.4" cy="157.3" r="1.8" fill="#4c4c4c"/>
<circle cx="189.0" cy="145.3" r="1.8" fill="#4c4c4c"/>
<circle cx="197.6" cy="145.6" r="1.8" fill="#4c4c4c"/>
<circle cx="188.0" cy="148.8" r="1.8" fill="#4c4c4c"/>
<circle cx="110.1" cy="143.7" r="1.8" fill="#4c4c4c"/>
<circle cx="118.6" cy="141.5" r="1.8" fill="#4c4c4c"/>
<circle cx="109.0" cy="142.0" r="1.8" fill="#4c4c4c"/>
<circle cx="199.0" cy="151.0" r="1.8" fill="#4c4c4c"/>
<circle cx="191.5" cy="145.4" r="1.8" fill="#4c4c4c"/>
<circle cx="119.0" cy="149.7" r="1.8" fill="#4c4c4c"/>
<circle cx="92.6" cy="146.0" r="1.8" fill="#4c4c4c"/>
<circle cx="119.5" cy="150.7" r="1.8" fill="#4c4c4c"/>
<circle cx="87.8" cy="147.1" r="1.8" fill="#4c4c4c"/>
<circle cx="124.9" cy="140.7" r="1.8" fill="#4c4c4c"/>
<circle cx="86.2" cy="147.5" r="1.8" fill="#4c4c4c"/>
<circle cx="146.0" cy="142.9" r="1.8" fill="#4c4c4c"/>
<circle cx="135.6" cy="149.9" r="1.8" fill="#4c4c4c"/>
<circle cx="110.9" cy="145.1" r="1.8" fill="#4c4c4c"/>
<circle cx="101.7" cy="138.2" r="1.8" fill="#4c4c4c"/>
<circle cx="173.8" cy="148.6" r="1.8" fill="#4c4c4c"/>
<circle cx="108.4" cy="137.9" r="1.8" fill="#4c4c4c"/>
<circle cx="96.0" cy="144.3" r="1.8" fill="#4c4c4c"/>
<circle cx="142.5" cy="143.5" r="1.8" fill="#4c4c4c"/>
<circle cx="109.5" cy="145.6" r="1.8" fill="#4c4c4c"/>
<circle cx="166.7" cy="149.2" r="1.8" fill="#4c4c4c"/>
<circle cx="152.5" cy="143.5" r="1.8" fill="#4c4c4c"/>
<circle cx="90.3" cy="172.9" r="1.8" fill="#4c4c4c"/>
<circle cx="123.2" cy="165.0" r="1.8" fill="#4c4c4c"/>
<circle cx="89.3" cy="174.5" r="1.8" fill="#4c4c4c"/>
<circle cx="116.2" cy="167.4" r="1.8" fill="#4c4c4c"/>
<circle cx="167.0" cy="158.4" r="1.8" fill="#4c4c4c"/>
<circle cx="85.5" cy="177.8" r="1.8" fill="#4c4c4c"/>
<circle cx="129.8" cy="165.2" r="1.8" fill="#4c4c4c"/>
<circle cx="109.6" cy="161.6" r="1.8" fill="#4c4c4c"/>
<circle cx="163.8" cy="157.9" r="1.8" fill="#4c4c4c"/>
<circle cx="99.7" cy="165.5" r="1.8" fill="#4c4c4c"/>
<circle cx="141.1" cy="157.2" r="1.8" fill="#4c4c4c"/>
<circle cx="133.9" cy="161.2" r="1.8" fill="#4c4c4c"/>
<circle cx="133.5" cy="158.7" r="1.8" fill="#4c4c4c"/>
<circle cx="152.6" cy="161.2" r="1.8" fill="#4c4c4c"/>
<circle cx="167.1" cy="157.5" r="1.8" fill="#4c4c4c"/>
<circle cx="152.3" cy="158.7" r="1.8" fill="#4c4c4c"/>
<circle cx="156.1" cy="156.6" r="1.8" fill="#4c4c4c"/>
<circle cx="167.8" cy="160.8" r="1.8" fill="#4c4c4c"/>
<circle cx="80.0" cy="121.0" r="1.8" fill="#4c4c4c"/>
<circle cx="84.0" cy="124.5" r="1.8" fill="#4c4c4c"/>
<circle cx="79.5" cy="130.0" r="1.8" fill="#4c4c4c"/>
<circle cx="83.0" cy="133.0" r="1.8" fill="#4c4c4c"/>
<circle cx="86.0" cy="137.0" r="1.8" fill="#4c4c4c"/>
<circle cx="82.0" cy="139.0" r="1.8" fill="#4c4c4c"/>
<circle cx="88.0" cy="142.0" r="1.8" fill="#4c4c4c"/>
<circle cx="92.0" cy="145.0" r="1.8" fill="#4c4c4c"/>
<circle cx="85.0" cy="146.0" r="1.8" fill="#4c4c4c"/>
<circle cx="95.0" cy="140.0" r="1.8" fill="#4c4c4c"/>
<circle cx="90.0" cy="134.0" r="1.8" fill="#4c4c4c"/>
<circle cx="99.0" cy="143.5" r="1.8" fill="#4c4c4c"/>
<circle cx="78.5" cy="117.0" r="1.8" fill="#4c4c4c"/>
<circle cx="92.0" cy="127.0" r="1.0" fill="#fff"/>
<circle cx="96.0" cy="130.0" r="1.0" fill="#fff"/>
<circle cx="87.0" cy="131.0" r="1.0" fill="#fff"/>
<circle cx="101.0" cy="138.0" r="1.0" fill="#fff"/>
<circle cx="105.0" cy="141.0" r="1.0" fill="#fff"/>
<circle cx="110.0" cy="139.0" r="1.0" fill="#fff"/>
<circle cx="117.3" cy="140.5" r="1.0" fill="#fff"/>
<circle cx="118.9" cy="140.8" r="1.0" fill="#fff"/>
<circle cx="95.9" cy="137.9" r="1.0" fill="#fff"/>
<circle cx="105.1" cy="137.8" r="1.0" fill="#fff"/>
<circle cx="99.6" cy="136.7" r="1.0" fill="#fff"/>
<circle cx="131.8" cy="140.8" r="1.0" fill="#fff"/>
<circle cx="77.2" cy="121.0" r="1.8" fill="#4c4c4c"/>
<circle cx="76.0" cy="113.3" r="1.8" fill="#4c4c4c"/>
<circle cx="76.3" cy="116.3" r="1.8" fill="#4c4c4c"/>
<circle cx="81.3" cy="126.2" r="1.8" fill="#4c4c4c"/>
<circle cx="74.1" cy="112.2" r="1.8" fill="#4c4c4c"/>
<circle cx="81.0" cy="127.2" r="1.8" fill="#4c4c4c"/>
<circle cx="80.6" cy="129.0" r="1.8" fill="#4c4c4c"/>
<circle cx="81.1" cy="122.2" r="1.8" fill="#4c4c4c"/>
<circle cx="73.5" cy="113.9" r="1.8" fill="#4c4c4c"/>
<circle cx="76.2" cy="113.0" r="1.8" fill="#4c4c4c"/>
<circle cx="59.5" cy="39.6" r="1.8" fill="#4c4c4c"/>
<circle cx="58.5" cy="40.5" r="1.8" fill="#4c4c4c"/>
<circle cx="60.5" cy="41.0" r="1.8" fill="#4c4c4c"/>
<circle cx="59.3" cy="45.5" r="1.8" fill="#4c4c4c"/>
<circle cx="59.3" cy="49.1" r="1.8" fill="#4c4c4c"/>
<circle cx="64.2" cy="51.3" r="1.8" fill="#4c4c4c"/>
<circle cx="60.4" cy="53.2" r="1.8" fill="#4c4c4c"/>
<circle cx="59.5" cy="56.3" r="1.8" fill="#4c4c4c"/>
<circle cx="59.3" cy="58.1" r="1.8" fill="#4c4c4c"/>
<circle cx="68.1" cy="58.5" r="1.8" fill="#4c4c4c"/>
<circle cx="60.4" cy="62.6" r="1.8" fill="#4c4c4c"/>
<circle cx="59.5" cy="64.9" r="1.8" fill="#4c4c4c"/>
<circle cx="59.5" cy="67.0" r="1.8" fill="#4c4c4c"/>
<circle cx="59.8" cy="69.0" r="1.8" fill="#4c4c4c"/>
<circle cx="60.0" cy="71.0" r="1.8" fill="#4c4c4c"/>
<circle cx="59.5" cy="72.5" r="1.8" fill="#4c4c4c"/>
<circle cx="61.3" cy="75.3" r="1.8" fill="#4c4c4c"/>
<circle cx="59.5" cy="78.9" r="1.8" fill="#4c4c4c"/>
<circle cx="63.0" cy="80.7" r="1.8" fill="#4c4c4c"/>
<circle cx="60.0" cy="82.0" r="1.8" fill="#4c4c4c"/>
<circle cx="59.5" cy="84.3" r="1.8" fill="#4c4c4c"/>
<circle cx="61.8" cy="90.2" r="1.8" fill="#4c4c4c"/>
<circle cx="81.5" cy="89.4" r="1.8" fill="#4c4c4c"/>
<circle cx="70.5" cy="92.5" r="1.8" fill="#4c4c4c"/>
<circle cx="61.7" cy="89.8" r="1.8" fill="#4c4c4c"/>
<circle cx="59.0" cy="93.4" r="1.8" fill="#4c4c4c"/>
<circle cx="63.5" cy="93.4" r="1.8" fill="#4c4c4c"/>
<circle cx="60.0" cy="97.0" r="1.8" fill="#4c4c4c"/>
<circle cx="70.8" cy="92.0" r="1.8" fill="#4c4c4c"/>
<circle cx="68.5" cy="96.0" r="1.8" fill="#4c4c4c"/>
<circle cx="76.2" cy="95.7" r="1.8" fill="#4c4c4c"/>
<circle cx="78.5" cy="96.6" r="1.8" fill="#4c4c4c"/>
<circle cx="64.7" cy="99.6" r="1.8" fill="#4c4c4c"/>
<circle cx="78.5" cy="103.7" r="1.8" fill="#4c4c4c"/>
<circle cx="60.0" cy="103.8" r="1.8" fill="#4c4c4c"/>
<circle cx="75.5" cy="95.8" r="1.8" fill="#4c4c4c"/>
<circle cx="87.8" cy="115.3" r="1.8" fill="#4c4c4c"/>
<circle cx="79.5" cy="112.0" r="1.8" fill="#4c4c4c"/>
<circle cx="84.5" cy="117.5" r="1.8" fill="#4c4c4c"/>
<circle cx="103.9" cy="126.2" r="1.8" fill="#4c4c4c"/>
<circle cx="127.3" cy="134.7" r="1.8" fill="#4c4c4c"/>
<circle cx="162.6" cy="132.6" r="1.8" fill="#4c4c4c"/>
<circle cx="235.1" cy="144.6" r="1.8" fill="#4c4c4c"/>
<circle cx="89.6" cy="100.8" r="1.8" fill="#fd0101"/>
<circle cx="133.6" cy="97.7" r="1.8" fill="#fd0101"/>
<circle cx="78.1" cy="109.2" r="1.8" fill="#fd0101"/>
<circle cx="80.0" cy="116.5" r="1.8" fill="#fd0101"/>
<circle cx="83.2" cy="115.5" r="1.8" fill="#fd0101"/>
<circle cx="86.0" cy="119.5" r="1.8" fill="#fd0101"/>
<circle cx="88.5" cy="118.0" r="1.8" fill="#fd0101"/>
<circle cx="81.5" cy="121.0" r="1.8" fill="#fd0101"/>
<circle cx="89.3" cy="109.7" r="1.8" fill="#fd0101"/>
<circle cx="82.5" cy="112.5" r="1.8" fill="#fd0101"/>
<circle cx="81.0" cy="114.5" r="1.8" fill="#fd0101"/>
<circle cx="97.9" cy="116.4" r="1.8" fill="#fd0101"/>
<circle cx="103.7" cy="116.4" r="1.8" fill="#fd0101"/>
<circle cx="98.2" cy="124.1" r="1.8" fill="#fd0101"/>
<circle cx="99.0" cy="129.8" r="1.8" fill="#fd0101"/>
<circle cx="107.9" cy="127.0" r="1.8" fill="#fd0101"/>
<circle cx="153.3" cy="129.7" r="1.8" fill="#fd0101"/>
<circle cx="170.2" cy="124.4" r="1.8" fill="#fd0101"/>
<circle cx="173.2" cy="130.5" r="1.8" fill="#fd0101"/>
<circle cx="165.0" cy="137.1" r="1.8" fill="#fd0101"/>
<circle cx="226.6" cy="139.7" r="1.8" fill="#fd0101"/>
<circle cx="234.7" cy="134.0" r="1.8" fill="#fd0101"/>
<circle cx="236.1" cy="131.2" r="1.8" fill="#fd0101"/>
<circle cx="274.0" cy="144.5" r="1.8" fill="#fd0101"/>
<circle cx="281.1" cy="149.1" r="1.8" fill="#fd0101"/>
<circle cx="289.2" cy="149.8" r="1.8" fill="#fd0101"/>
<circle cx="302.4" cy="147.0" r="1.8" fill="#fd0101"/>
<circle cx="284.7" cy="151.2" r="1.8" fill="#4c4c4c"/>
<circle cx="305.2" cy="151.2" r="1.8" fill="#4c4c4c"/>
<circle cx="298.1" cy="160.4" r="1.8" fill="#4c4c4c"/>
<circle cx="332.8" cy="159.4" r="1.8" fill="#4c4c4c"/>
<circle cx="249.0" cy="161.5" r="1.8" fill="#4c4c4c"/>
<circle cx="265.5" cy="162.5" r="1.8" fill="#4c4c4c"/>
<circle cx="269.1" cy="159.4" r="1.8" fill="#4c4c4c"/>
<circle cx="262.3" cy="156.2" r="1.8" fill="#4c4c4c"/>
<circle cx="258.5" cy="154.0" r="1.8" fill="#4c4c4c"/>
<circle cx="266.2" cy="153.3" r="1.8" fill="#4c4c4c"/>
<circle cx="270.5" cy="152.6" r="1.8" fill="#4c4c4c"/>
<circle cx="246.0" cy="154.7" r="1.8" fill="#4c4c4c"/>
<circle cx="254.6" cy="162.3" r="1.8" fill="#fd0101"/>
<circle cx="105.2" cy="179.0" r="1.8" fill="#fd0101"/>
<circle cx="89.0" cy="184.7" r="1.8" fill="#fd0101"/>
<circle cx="88.2" cy="187.5" r="1.8" fill="#fd0101"/>
<circle cx="109.5" cy="187.5" r="1.8" fill="#fd0101"/>
<circle cx="115.2" cy="184.7" r="1.8" fill="#fd0101"/>
<circle cx="120.1" cy="183.3" r="1.8" fill="#fd0101"/>
<circle cx="114.4" cy="180.5" r="1.8" fill="#fd0101"/>
<circle cx="133.6" cy="173.4" r="1.8" fill="#fd0101"/>
<circle cx="132.6" cy="179.0" r="1.8" fill="#fd0101"/>
<circle cx="135.7" cy="175.5" r="1.8" fill="#fd0101"/>
<circle cx="112.3" cy="195.3" r="1.8" fill="#fd0101"/>
<circle cx="81.9" cy="188.2" r="1.8" fill="#fd0101"/>
<circle cx="152.7" cy="171.0" r="1.8" fill="#fd0101"/>
<circle cx="159.8" cy="172.0" r="1.8" fill="#fd0101"/>
<circle cx="163.3" cy="168.0" r="1.8" fill="#fd0101"/>
<circle cx="177.7" cy="166.6" r="1.8" fill="#fd0101"/>
<circle cx="175.3" cy="172.7" r="1.8" fill="#fd0101"/>
<circle cx="186.0" cy="170.3" r="1.8" fill="#fd0101"/>
<circle cx="190.8" cy="173.1" r="1.8" fill="#fd0101"/>
<circle cx="200.7" cy="164.2" r="1.8" fill="#fd0101"/>
<circle cx="221.0" cy="163.8" r="1.8" fill="#fd0101"/>
<circle cx="229.9" cy="160.0" r="1.8" fill="#fd0101"/>
<circle cx="112.3" cy="196.1" r="1.8" fill="#fd0101"/>
<circle cx="82.3" cy="202.5" r="1.8" fill="#fd0101"/>
<circle cx="103.8" cy="185.4" r="1.8" fill="#4c4c4c"/>
<circle cx="118.7" cy="176.9" r="1.8" fill="#4c4c4c"/>
<circle cx="125.1" cy="174.1" r="1.8" fill="#4c4c4c"/>
<circle cx="90.4" cy="194.6" r="1.8" fill="#4c4c4c"/>
<circle cx="86.1" cy="195.6" r="1.8" fill="#4c4c4c"/>
<circle cx="100.3" cy="196.0" r="1.8" fill="#4c4c4c"/>
<circle cx="174.9" cy="169.9" r="1.8" fill="#4c4c4c"/>
<circle cx="182.0" cy="172.3" r="1.8" fill="#4c4c4c"/>
<circle cx="184.1" cy="174.1" r="1.8" fill="#4c4c4c"/>
<circle cx="235.5" cy="162.8" r="1.8" fill="#4c4c4c"/>
<circle cx="244.0" cy="165.6" r="1.8" fill="#4c4c4c"/>
<circle cx="86.1" cy="196.0" r="1.8" fill="#4c4c4c"/>
<circle cx="90.7" cy="195.0" r="1.8" fill="#4c4c4c"/>
<circle cx="100.6" cy="196.4" r="1.8" fill="#4c4c4c"/>
<circle cx="94.6" cy="200.2" r="1.8" fill="#4c4c4c"/>
<circle cx="84.4" cy="204.9" r="1.8" fill="#4c4c4c"/>
<circle cx="145.3" cy="202.3" r="1.8" fill="#4c4c4c"/>
<circle cx="71.3" cy="209.5" r="1.8" fill="#4c4c4c"/>
<circle cx="74.9" cy="210.1" r="1.8" fill="#4c4c4c"/>
<circle cx="67.7" cy="211.3" r="1.8" fill="#4c4c4c"/>
<circle cx="69.5" cy="216.7" r="1.8" fill="#4c4c4c"/>
<circle cx="73.1" cy="219.7" r="1.8" fill="#4c4c4c"/>
<circle cx="71.3" cy="222.7" r="1.8" fill="#4c4c4c"/>
<circle cx="65.3" cy="224.0" r="1.8" fill="#4c4c4c"/>
<circle cx="61.0" cy="227.5" r="1.8" fill="#4c4c4c"/>
<circle cx="61.6" cy="216.1" r="1.8" fill="#4c4c4c"/>
<circle cx="61.0" cy="217.3" r="1.8" fill="#4c4c4c"/>
<circle cx="59.2" cy="220.3" r="1.8" fill="#4c4c4c"/>
<circle cx="59.8" cy="222.7" r="1.8" fill="#4c4c4c"/>
<circle cx="64.0" cy="212.5" r="1.8" fill="#4c4c4c"/>
<circle cx="59.2" cy="235.3" r="1.8" fill="#4c4c4c"/>
<circle cx="59.2" cy="235.7" r="1.8" fill="#4c4c4c"/>
<circle cx="59.2" cy="237.8" r="1.8" fill="#4c4c4c"/>
<circle cx="63.2" cy="239.9" r="1.8" fill="#4c4c4c"/>
<circle cx="59.2" cy="244.2" r="1.8" fill="#4c4c4c"/>
<circle cx="59.2" cy="250.5" r="1.8" fill="#4c4c4c"/>
<circle cx="86.5" cy="240.6" r="1.8" fill="#4c4c4c"/>
<circle cx="78.3" cy="255.9" r="1.8" fill="#4c4c4c"/>
<circle cx="59.2" cy="260.5" r="1.8" fill="#4c4c4c"/>
<circle cx="59.2" cy="262.9" r="1.8" fill="#4c4c4c"/>
<circle cx="63.5" cy="267.3" r="1.8" fill="#4c4c4c"/>
<polygon points="55.9,38.6 63.1,38.6 59.5,32.2" fill="#4c4c4c" stroke="#4c4c4c" stroke-width="0.9"/>
<polygon points="56.5,38.6 63.7,38.6 60.1,32.2" fill="#4c4c4c" stroke="#4c4c4c" stroke-width="0.9"/>
<polygon points="57.1,38.6 64.3,38.6 60.7,32.2" fill="#4c4c4c" stroke="#4c4c4c" stroke-width="0.9"/>
<polygon points="57.7,38.6 64.9,38.6 61.3,32.2" fill="#4c4c4c" stroke="#4c4c4c" stroke-width="0.9"/>
<polygon points="58.3,38.6 65.5,38.6 61.9,32.2" fill="#4c4c4c" stroke="#4c4c4c" stroke-width="0.9"/>
<polygon points="58.9,38.6 66.1,38.6 62.5,32.2" fill="#4c4c4c" stroke="#4c4c4c" stroke-width="0.9"/>
<polygon points="59.5,38.6 66.7,38.6 63.1,32.2" fill="#4c4c4c" stroke="#4c4c4c" stroke-width="0.9"/>
<polygon points="60.1,38.6 67.3,38.6 63.7,32.2" fill="#4c4c4c" stroke="#4c4c4c" stroke-width="0.9"/>
<polygon points="60.7,38.6 67.9,38.6 64.3,32.2" fill="#4c4c4c" stroke="#4c4c4c" stroke-width="0.9"/>
<polygon points="63.9,38.6 71.1,38.6 67.5,32.2" fill="#fd0101" stroke="#fd0101" stroke-width="0.9"/>
<polygon points="64.5,38.6 71.7,38.6 68.1,32.2" fill="#fd0101" stroke="#fd0101" stroke-width="0.9"/>
<polygon points="65.1,38.6 72.3,38.6 68.7,32.2" fill="#fd0101" stroke="#fd0101" stroke-width="0.9"/>
<polygon points="65.7,38.6 72.9,38.6 69.3,32.2" fill="#fd0101" stroke="#fd0101" stroke-width="0.9"/>
<polygon points="66.3,38.6 73.5,38.6 69.9,32.2" fill="#fd0101" stroke="#fd0101" stroke-width="0.9"/>
<polygon points="66.9,38.6 74.1,38.6 70.5,32.2" fill="#fd0101" stroke="#fd0101" stroke-width="0.9"/>
<polygon points="67.5,38.6 74.7,38.6 71.1,32.2" fill="#fd0101" stroke="#fd0101" stroke-width="0.9"/>
<polygon points="68.1,38.6 75.3,38.6 71.7,32.2" fill="#fd0101" stroke="#fd0101" stroke-width="0.9"/>
<polygon points="68.7,38.6 75.9,38.6 72.3,32.2" fill="#fd0101" stroke="#fd0101" stroke-width="0.9"/>
<polygon points="69.3,38.6 76.5,38.6 72.9,32.2" fill="#fd0101" stroke="#fd0101" stroke-width="0.9"/>
<polygon points="69.9,38.6 77.1,38.6 73.5,32.2" fill="#fd0101" stroke="#fd0101" stroke-width="0.9"/>
<polygon points="70.5,38.6 77.7,38.6 74.1,32.2" fill="#fd0101" stroke="#fd0101" stroke-width="0.9"/>
<polygon points="71.1,38.6 78.3,38.6 74.7,32.2" fill="#fd0101" stroke="#fd0101" stroke-width="0.9"/>
<polygon points="71.7,38.6 78.9,38.6 75.3,32.2" fill="#fd0101" stroke="#fd0101" stroke-width="0.9"/>
<polygon points="72.3,38.6 79.5,38.6 75.9,32.2" fill="#fd0101" stroke="#fd0101" stroke-width="0.9"/>
<polygon points="72.9,38.6 80.1,38.6 76.5,32.2" fill="#fd0101" stroke="#fd0101" stroke-width="0.9"/>
<polygon points="73.5,38.6 80.7,38.6 77.1,32.2" fill="#fd0101" stroke="#fd0101" stroke-width="0.9"/>
<polygon points="74.1,38.6 81.3,38.6 77.7,32.2" fill="#fd0101" stroke="#fd0101" stroke-width="0.9"/>
<polygon points="74.7,38.6 81.9,38.6 78.3,32.2" fill="#fd0101" stroke="#fd0101" stroke-width="0.9"/>
<polygon points="77.9,38.6 85.1,38.6 81.5,32.2" fill="none" stroke="#383838" stroke-width="0.9"/>
<polygon points="80.6,38.6 87.8,38.6 84.2,32.2" fill="none" stroke="#383838" stroke-width="0.9"/>
<polygon points="82.4,38.6 89.6,38.6 86.0,32.2" fill="none" stroke="#383838" stroke-width="0.9"/>
<polygon points="85.2,38.6 92.4,38.6 88.8,32.2" fill="none" stroke="#383838" stroke-width="0.9"/>
<polygon points="87.9,38.6 95.1,38.6 91.5,32.2" fill="none" stroke="#383838" stroke-width="0.9"/>
<polygon points="89.4,38.6 96.6,38.6 93.0,32.2" fill="none" stroke="#383838" stroke-width="0.9"/>
<polygon points="92.0,38.6 99.2,38.6 95.6,32.2" fill="none" stroke="#383838" stroke-width="0.9"/>
<polygon points="94.8,38.6 102.0,38.6 98.4,32.2" fill="none" stroke="#383838" stroke-width="0.9"/>
<polygon points="96.6,38.6 103.8,38.6 100.2,32.2" fill="none" stroke="#383838" stroke-width="0.9"/>
<polygon points="98.4,38.6 105.6,38.6 102.0,32.2" fill="none" stroke="#383838" stroke-width="0.9"/>
<polygon points="100.0,38.6 107.2,38.6 103.6,32.2" fill="none" stroke="#383838" stroke-width="0.9"/>
<polygon points="101.4,38.6 108.6,38.6 105.0,32.2" fill="none" stroke="#383838" stroke-width="0.9"/>
<polygon points="103.2,38.6 110.4,38.6 106.8,32.2" fill="none" stroke="#383838" stroke-width="0.9"/>
<polygon points="104.9,38.6 112.1,38.6 108.5,32.2" fill="none" stroke="#383838" stroke-width="0.9"/>
<polygon points="107.6,38.6 114.8,38.6 111.2,32.2" fill="none" stroke="#383838" stroke-width="0.9"/>
<polygon points="110.4,38.6 117.6,38.6 114.0,32.2" fill="none" stroke="#383838" stroke-width="0.9"/>
<polygon points="113.6,38.6 120.8,38.6 117.2,32.2" fill="none" stroke="#383838" stroke-width="0.9"/>
<polygon points="116.9,38.6 124.1,38.6 120.5,32.2" fill="none" stroke="#383838" stroke-width="0.9"/>
<polygon points="122.0,38.6 129.2,38.6 125.6,32.2" fill="none" stroke="#383838" stroke-width="0.9"/>
<polygon points="150.6,38.6 157.8,38.6 154.2,32.2" fill="none" stroke="#383838" stroke-width="0.9"/>
<polygon points="154.1,38.6 161.3,38.6 157.7,32.2" fill="none" stroke="#383838" stroke-width="0.9"/>
<polygon points="55.9,269.7 63.1,269.7 59.5,276.1" fill="#4c4c4c" stroke="#4c4c4c" stroke-width="0.9"/>
<polygon points="56.5,269.7 63.7,269.7 60.1,276.1" fill="#4c4c4c" stroke="#4c4c4c" stroke-width="0.9"/>
<polygon points="57.1,269.7 64.3,269.7 60.7,276.1" fill="#4c4c4c" stroke="#4c4c4c" stroke-width="0.9"/>
<polygon points="57.7,269.7 64.9,269.7 61.3,276.1" fill="#4c4c4c" stroke="#4c4c4c" stroke-width="0.9"/>
<polygon points="58.3,269.7 65.5,269.7 61.9,276.1" fill="#4c4c4c" stroke="#4c4c4c" stroke-width="0.9"/>
<polygon points="58.9,269.7 66.1,269.7 62.5,276.1" fill="#4c4c4c" stroke="#4c4c4c" stroke-width="0.9"/>
<polygon points="59.5,269.7 66.7,269.7 63.1,276.1" fill="#4c4c4c" stroke="#4c4c4c" stroke-width="0.9"/>
<polygon points="60.1,269.7 67.3,269.7 63.7,276.1" fill="#4c4c4c" stroke="#4c4c4c" stroke-width="0.9"/>
<polygon points="63.4,269.7 70.6,269.7 67.0,276.1" fill="#fd0101" stroke="#fd0101" stroke-width="0.9"/>
<polygon points="64.0,269.7 71.2,269.7 67.6,276.1" fill="#fd0101" stroke="#fd0101" stroke-width="0.9"/>
<polygon points="64.6,269.7 71.8,269.7 68.2,276.1" fill="#fd0101" stroke="#fd0101" stroke-width="0.9"/>
<polygon points="65.2,269.7 72.4,269.7 68.8,276.1" fill="#fd0101" stroke="#fd0101" stroke-width="0.9"/>
<polygon points="65.8,269.7 73.0,269.7 69.4,276.1" fill="#fd0101" stroke="#fd0101" stroke-width="0.9"/>
<polygon points="66.4,269.7 73.6,269.7 70.0,276.1" fill="#fd0101" stroke="#fd0101" stroke-width="0.9"/>
<polygon points="67.0,269.7 74.2,269.7 70.6,276.1" fill="#fd0101" stroke="#fd0101" stroke-width="0.9"/>
<polygon points="67.6,269.7 74.8,269.7 71.2,276.1" fill="#fd0101" stroke="#fd0101" stroke-width="0.9"/>
<polygon points="68.2,269.7 75.4,269.7 71.8,276.1" fill="#fd0101" stroke="#fd0101" stroke-width="0.9"/>
<polygon points="68.8,269.7 76.0,269.7 72.4,276.1" fill="#fd0101" stroke="#fd0101" stroke-width="0.9"/>
<polygon points="69.4,269.7 76.6,269.7 73.0,276.1" fill="#fd0101" stroke="#fd0101" stroke-width="0.9"/>
<polygon points="70.0,269.7 77.2,269.7 73.6,276.1" fill="#fd0101" stroke="#fd0101" stroke-width="0.9"/>
<polygon points="70.6,269.7 77.8,269.7 74.2,276.1" fill="#fd0101" stroke="#fd0101" stroke-width="0.9"/>
<polygon points="71.2,269.7 78.4,269.7 74.8,276.1" fill="#fd0101" stroke="#fd0101" stroke-width="0.9"/>
<polygon points="71.8,269.7 79.0,269.7 75.4,276.1" fill="#fd0101" stroke="#fd0101" stroke-width="0.9"/>
<polygon points="72.4,269.7 79.6,269.7 76.0,276.1" fill="#fd0101" stroke="#fd0101" stroke-width="0.9"/>
<polygon points="73.0,269.7 80.2,269.7 76.6,276.1" fill="#fd0101" stroke="#fd0101" stroke-width="0.9"/>
<polygon points="73.6,269.7 80.8,269.7 77.2,276.1" fill="#fd0101" stroke="#fd0101" stroke-width="0.9"/>
<polygon points="74.2,269.7 81.4,269.7 77.8,276.1" fill="#fd0101" stroke="#fd0101" stroke-width="0.9"/>
<polygon points="74.8,269.7 82.0,269.7 78.4,276.1" fill="#fd0101" stroke="#fd0101" stroke-width="0.9"/>
<polygon points="75.4,269.7 82.6,269.7 79.0,276.1" fill="#fd0101" stroke="#fd0101" stroke-width="0.9"/>
<polygon points="76.0,269.7 83.2,269.7 79.6,276.1" fill="#fd0101" stroke="#fd0101" stroke-width="0.9"/>
<polygon points="80.7,269.7 87.9,269.7 84.3,276.1" fill="none" stroke="#383838" stroke-width="0.9"/>
<polygon points="84.9,269.7 92.1,269.7 88.5,276.1" fill="none" stroke="#383838" stroke-width="0.9"/>
<polygon points="88.6,269.7 95.8,269.7 92.2,276.1" fill="none" stroke="#383838" stroke-width="0.9"/>
<polygon points="92.9,269.7 100.1,269.7 96.5,276.1" fill="none" stroke="#383838" stroke-width="0.9"/>
<polygon points="96.4,269.7 103.6,269.7 100.0,276.1" fill="none" stroke="#383838" stroke-width="0.9"/>
<polygon points="99.9,269.7 107.1,269.7 103.5,276.1" fill="none" stroke="#383838" stroke-width="0.9"/>
<polygon points="102.7,269.7 109.9,269.7 106.3,276.1" fill="none" stroke="#383838" stroke-width="0.9"/>
<polygon points="104.9,269.7 112.1,269.7 108.5,276.1" fill="none" stroke="#383838" stroke-width="0.9"/>
<polygon points="106.9,269.7 114.1,269.7 110.5,276.1" fill="none" stroke="#383838" stroke-width="0.9"/>
<polygon points="108.9,269.7 116.1,269.7 112.5,276.1" fill="none" stroke="#383838" stroke-width="0.9"/>
<polygon points="110.7,269.7 117.9,269.7 114.3,276.1" fill="none" stroke="#383838" stroke-width="0.9"/>
<polygon points="112.7,269.7 119.9,269.7 116.3,276.1" fill="none" stroke="#383838" stroke-width="0.9"/>
<polygon points="114.6,269.7 121.8,269.7 118.2,276.1" fill="none" stroke="#383838" stroke-width="0.9"/>
<polygon points="116.7,269.7 123.9,269.7 120.3,276.1" fill="none" stroke="#383838" stroke-width="0.9"/>
<polygon points="150.3,269.7 157.5,269.7 153.9,276.1" fill="none" stroke="#383838" stroke-width="0.9"/>
<circle cx="58.0" cy="270.0" r="1.8" fill="#4c4c4c"/>
<circle cx="58.0" cy="274.0" r="1.8" fill="#4c4c4c"/>
<circle cx="62.0" cy="276.5" r="1.8" fill="#4c4c4c"/>
<circle cx="57.5" cy="272.0" r="1.8" fill="#4c4c4c"/>
<circle cx="59.5" cy="275.5" r="1.8" fill="#4c4c4c"/>
<circle cx="61.0" cy="266.0" r="1.8" fill="#4c4c4c"/>
<line x1="49" y1="142.5" x2="343" y2="142.5" stroke="#8c74c4" stroke-width="1.1" stroke-dasharray="3.6 2.0"/>
<line x1="49" y1="165.8" x2="343" y2="165.8" stroke="#b4a4d8" stroke-width="1.6" stroke-dasharray="3.6 2.0"/>
</svg>
<svg x="413" y="28" width="294" height="253" viewBox="413 28 294 253" overflow="hidden">
<polygon points="537.0,101.5 556.0,101.5 557.5,170.0 530.0,170.0 531.0,150.0 532.0,135.0 533.0,122.0 536.0,112.0" fill="#fd0101"/>
<circle cx="530.1" cy="168.4" r="1.8" fill="#fd0101"/>
<circle cx="529.3" cy="166.4" r="1.8" fill="#fd0101"/>
<circle cx="529.8" cy="163.0" r="1.8" fill="#fd0101"/>
<circle cx="530.5" cy="162.1" r="1.8" fill="#fd0101"/>
<circle cx="530.8" cy="157.9" r="1.8" fill="#fd0101"/>
<circle cx="531.2" cy="155.3" r="1.8" fill="#fd0101"/>
<circle cx="531.2" cy="151.8" r="1.8" fill="#fd0101"/>
<circle cx="530.4" cy="148.8" r="1.8" fill="#fd0101"/>
<circle cx="531.0" cy="146.3" r="1.8" fill="#fd0101"/>
<circle cx="531.0" cy="144.8" r="1.8" fill="#fd0101"/>
<circle cx="531.8" cy="140.6" r="1.8" fill="#fd0101"/>
<circle cx="533.0" cy="137.0" r="1.8" fill="#fd0101"/>
<circle cx="531.3" cy="132.8" r="1.8" fill="#fd0101"/>
<circle cx="532.2" cy="130.0" r="1.8" fill="#fd0101"/>
<circle cx="532.3" cy="129.8" r="1.8" fill="#fd0101"/>
<circle cx="532.0" cy="128.1" r="1.8" fill="#fd0101"/>
<circle cx="532.1" cy="123.1" r="1.8" fill="#fd0101"/>
<circle cx="533.6" cy="121.8" r="1.8" fill="#fd0101"/>
<circle cx="534.9" cy="118.3" r="1.8" fill="#fd0101"/>
<circle cx="535.4" cy="116.5" r="1.8" fill="#fd0101"/>
<circle cx="536.1" cy="114.3" r="1.8" fill="#fd0101"/>
<polygon points="563.5,101.5 576.0,101.5 574.0,112.0 573.5,130.0 574.0,170.0 562.6,170.0" fill="#fd0101"/>
<circle cx="574.8" cy="103.8" r="1.8" fill="#fd0101"/>
<circle cx="576.1" cy="104.3" r="1.8" fill="#fd0101"/>
<circle cx="576.0" cy="107.7" r="1.8" fill="#fd0101"/>
<circle cx="575.1" cy="110.9" r="1.8" fill="#fd0101"/>
<circle cx="573.7" cy="113.0" r="1.8" fill="#fd0101"/>
<circle cx="574.4" cy="115.3" r="1.8" fill="#fd0101"/>
<circle cx="573.9" cy="118.4" r="1.8" fill="#fd0101"/>
<circle cx="574.4" cy="122.4" r="1.8" fill="#fd0101"/>
<circle cx="573.5" cy="124.1" r="1.8" fill="#fd0101"/>
<circle cx="572.7" cy="127.7" r="1.8" fill="#fd0101"/>
<circle cx="572.5" cy="131.9" r="1.8" fill="#fd0101"/>
<circle cx="574.4" cy="134.0" r="1.8" fill="#fd0101"/>
<circle cx="572.9" cy="136.7" r="1.8" fill="#fd0101"/>
<circle cx="572.4" cy="138.4" r="1.8" fill="#fd0101"/>
<circle cx="573.6" cy="142.6" r="1.8" fill="#fd0101"/>
<circle cx="573.8" cy="145.8" r="1.8" fill="#fd0101"/>
<circle cx="573.8" cy="147.3" r="1.8" fill="#fd0101"/>
<circle cx="573.4" cy="149.5" r="1.8" fill="#fd0101"/>
<circle cx="574.8" cy="152.3" r="1.8" fill="#fd0101"/>
<circle cx="572.8" cy="154.5" r="1.8" fill="#fd0101"/>
<circle cx="574.0" cy="157.5" r="1.8" fill="#fd0101"/>
<circle cx="575.0" cy="160.7" r="1.8" fill="#fd0101"/>
<circle cx="574.2" cy="163.9" r="1.8" fill="#fd0101"/>
<circle cx="574.0" cy="166.0" r="1.8" fill="#fd0101"/>
<circle cx="573.5" cy="168.8" r="1.8" fill="#fd0101"/>
<line x1="521.3" y1="49.6" x2="553.2" y2="49.6" stroke="#fd0101" stroke-width="3.6" stroke-linecap="round"/>
<line x1="565.8" y1="49.6" x2="598.0" y2="49.6" stroke="#fd0101" stroke-width="3.6" stroke-linecap="round"/>
<circle cx="509.3" cy="49.6" r="1.8" fill="#fd0101"/>
<circle cx="515.2" cy="49.6" r="1.8" fill="#fd0101"/>
<circle cx="603.2" cy="49.6" r="1.8" fill="#fd0101"/>
<circle cx="606.0" cy="49.6" r="1.8" fill="#fd0101"/>
<circle cx="609.5" cy="49.6" r="1.8" fill="#fd0101"/>
<circle cx="612.5" cy="49.6" r="1.8" fill="#fd0101"/>
<circle cx="620.0" cy="49.6" r="1.8" fill="#fd0101"/>
<line x1="534.1" y1="69.8" x2="553.1" y2="69.8" stroke="#fd0101" stroke-width="3.6" stroke-linecap="round"/>
<line x1="565.8" y1="69.8" x2="581.7" y2="69.8" stroke="#fd0101" stroke-width="3.6" stroke-linecap="round"/>
<circle cx="517.7" cy="69.8" r="1.8" fill="#fd0101"/>
<line x1="529.6" y1="81.1" x2="553.1" y2="81.1" stroke="#fd0101" stroke-width="3.6" stroke-linecap="round"/>
<line x1="565.8" y1="81.1" x2="578.0" y2="81.1" stroke="#fd0101" stroke-width="3.6" stroke-linecap="round"/>
<circle cx="519.2" cy="81.1" r="1.8" fill="#fd0101"/>
<circle cx="586.5" cy="81.1" r="1.8" fill="#fd0101"/>
<circle cx="591.8" cy="81.1" r="1.8" fill="#fd0101"/>
<circle cx="596.4" cy="81.1" r="1.8" fill="#fd0101"/>
<line x1="531.8" y1="88.7" x2="553.1" y2="88.7" stroke="#fd0101" stroke-width="3.6" stroke-linecap="round"/>
<line x1="565.8" y1="88.7" x2="578.7" y2="88.7" stroke="#fd0101" stroke-width="3.6" stroke-linecap="round"/>
<circle cx="587.3" cy="88.7" r="1.8" fill="#fd0101"/>
<circle cx="594.0" cy="88.7" r="1.8" fill="#fd0101"/>
<line x1="531.8" y1="93.9" x2="553.1" y2="93.9" stroke="#fd0101" stroke-width="3.6" stroke-linecap="round"/>
<line x1="565.8" y1="93.9" x2="579.5" y2="93.9" stroke="#fd0101" stroke-width="3.6" stroke-linecap="round"/>
<line x1="537.1" y1="98.9" x2="553.1" y2="98.9" stroke="#fd0101" stroke-width="3.6" stroke-linecap="round"/>
<line x1="565.8" y1="98.9" x2="575.7" y2="98.9" stroke="#fd0101" stroke-width="3.6" stroke-linecap="round"/>
<circle cx="583.5" cy="98.9" r="1.8" fill="#fd0101"/>
<circle cx="503.7" cy="103.2" r="1.8" fill="#fd0101"/>
<circle cx="513.5" cy="109.8" r="1.8" fill="#fd0101"/>
<circle cx="607.8" cy="114.9" r="1.8" fill="#fd0101"/>
<circle cx="590.5" cy="106.9" r="1.8" fill="#fd0101"/>
<circle cx="588.3" cy="110.0" r="1.8" fill="#fd0101"/>
<circle cx="583.8" cy="99.3" r="1.8" fill="#fd0101"/>
<circle cx="582.9" cy="112.0" r="1.8" fill="#fd0101"/>
<circle cx="519.5" cy="119.6" r="1.8" fill="#fd0101"/>
<circle cx="519.0" cy="121.3" r="1.8" fill="#fd0101"/>
<circle cx="521.2" cy="142.5" r="1.8" fill="#fd0101"/>
<circle cx="526.2" cy="114.5" r="1.8" fill="#fd0101"/>
<circle cx="525.4" cy="124.7" r="1.8" fill="#fd0101"/>
<circle cx="527.0" cy="134.3" r="1.8" fill="#fd0101"/>
<circle cx="588.0" cy="136.0" r="1.8" fill="#fd0101"/>
<circle cx="581.7" cy="127.6" r="1.8" fill="#fd0101"/>
<circle cx="595.0" cy="168.5" r="1.8" fill="#fd0101"/>
<circle cx="521.0" cy="167.5" r="1.8" fill="#fd0101"/>
<circle cx="524.5" cy="168.0" r="1.8" fill="#fd0101"/>
<circle cx="527.0" cy="166.0" r="1.8" fill="#fd0101"/>
<circle cx="523.0" cy="164.5" r="1.8" fill="#fd0101"/>
<circle cx="526.5" cy="118.5" r="1.8" fill="#fd0101"/>
<circle cx="531.2" cy="142.3" r="1.8" fill="#fd0101"/>
<circle cx="532.0" cy="143.7" r="1.8" fill="#fd0101"/>
<circle cx="532.5" cy="157.4" r="1.8" fill="#fd0101"/>
<circle cx="530.7" cy="119.9" r="1.8" fill="#fd0101"/>
<circle cx="510.0" cy="133.6" r="1.8" fill="#fd0101"/>
<circle cx="523.1" cy="157.4" r="1.8" fill="#fd0101"/>
<circle cx="531.5" cy="112.8" r="1.8" fill="#fd0101"/>
<circle cx="527.2" cy="144.3" r="1.8" fill="#fd0101"/>
<circle cx="526.7" cy="151.2" r="1.8" fill="#fd0101"/>
<circle cx="522.1" cy="146.6" r="1.8" fill="#fd0101"/>
<circle cx="528.4" cy="141.4" r="1.8" fill="#fd0101"/>
<circle cx="519.2" cy="122.6" r="1.8" fill="#fd0101"/>
<circle cx="530.3" cy="133.7" r="1.8" fill="#fd0101"/>
<circle cx="525.0" cy="149.7" r="1.8" fill="#fd0101"/>
<circle cx="525.4" cy="162.9" r="1.8" fill="#fd0101"/>
<circle cx="530.6" cy="128.7" r="1.8" fill="#fd0101"/>
<circle cx="525.8" cy="163.8" r="1.8" fill="#fd0101"/>
<circle cx="529.9" cy="160.1" r="1.8" fill="#fd0101"/>
<circle cx="530.8" cy="117.1" r="1.8" fill="#fd0101"/>
<circle cx="524.0" cy="165.8" r="1.8" fill="#fd0101"/>
<circle cx="529.2" cy="122.6" r="1.8" fill="#fd0101"/>
<circle cx="528.1" cy="136.0" r="1.8" fill="#fd0101"/>
<circle cx="528.7" cy="141.0" r="1.8" fill="#fd0101"/>
<circle cx="524.3" cy="141.0" r="1.8" fill="#fd0101"/>
<circle cx="527.0" cy="163.4" r="1.8" fill="#fd0101"/>
<circle cx="522.6" cy="158.7" r="1.8" fill="#fd0101"/>
<circle cx="532.4" cy="113.6" r="1.8" fill="#fd0101"/>
<circle cx="518.2" cy="158.9" r="1.8" fill="#fd0101"/>
<circle cx="529.7" cy="140.0" r="1.8" fill="#fd0101"/>
<circle cx="529.8" cy="149.4" r="1.8" fill="#fd0101"/>
<circle cx="520.2" cy="140.3" r="1.8" fill="#fd0101"/>
<circle cx="520.3" cy="121.5" r="1.8" fill="#fd0101"/>
<circle cx="527.7" cy="167.3" r="1.8" fill="#fd0101"/>
<circle cx="530.8" cy="108.8" r="1.8" fill="#fd0101"/>
<circle cx="526.2" cy="112.8" r="1.8" fill="#fd0101"/>
<circle cx="531.3" cy="122.1" r="1.8" fill="#fd0101"/>
<circle cx="518.9" cy="105.9" r="1.8" fill="#fd0101"/>
<circle cx="522.3" cy="142.9" r="1.8" fill="#fd0101"/>
<circle cx="529.9" cy="124.5" r="1.8" fill="#fd0101"/>
<circle cx="524.8" cy="160.3" r="1.8" fill="#fd0101"/>
<circle cx="532.0" cy="167.9" r="1.8" fill="#fd0101"/>
<circle cx="524.6" cy="123.1" r="1.8" fill="#fd0101"/>
<circle cx="528.6" cy="105.0" r="1.8" fill="#fd0101"/>
<circle cx="525.0" cy="115.8" r="1.8" fill="#fd0101"/>
<circle cx="527.7" cy="113.2" r="1.8" fill="#fd0101"/>
<circle cx="528.9" cy="105.8" r="1.8" fill="#fd0101"/>
<circle cx="528.5" cy="165.3" r="1.8" fill="#fd0101"/>
<circle cx="527.4" cy="161.3" r="1.8" fill="#fd0101"/>
<circle cx="527.6" cy="136.8" r="1.8" fill="#fd0101"/>
<circle cx="525.6" cy="144.9" r="1.8" fill="#fd0101"/>
<circle cx="527.9" cy="143.3" r="1.8" fill="#fd0101"/>
<circle cx="525.6" cy="164.1" r="1.8" fill="#fd0101"/>
<circle cx="532.7" cy="149.8" r="1.8" fill="#fd0101"/>
<circle cx="526.9" cy="118.4" r="1.8" fill="#fd0101"/>
<circle cx="514.7" cy="136.9" r="1.8" fill="#fd0101"/>
<circle cx="525.8" cy="138.6" r="1.8" fill="#fd0101"/>
<circle cx="532.5" cy="140.7" r="1.8" fill="#fd0101"/>
<circle cx="525.6" cy="104.3" r="1.8" fill="#fd0101"/>
<circle cx="526.4" cy="106.9" r="1.8" fill="#fd0101"/>
<circle cx="522.7" cy="143.8" r="1.8" fill="#fd0101"/>
<circle cx="530.8" cy="125.9" r="1.8" fill="#fd0101"/>
<circle cx="532.9" cy="149.0" r="1.8" fill="#fd0101"/>
<circle cx="531.5" cy="106.9" r="1.8" fill="#fd0101"/>
<circle cx="527.8" cy="146.9" r="1.8" fill="#fd0101"/>
<circle cx="531.8" cy="132.7" r="1.8" fill="#fd0101"/>
<circle cx="530.2" cy="141.5" r="1.8" fill="#fd0101"/>
<circle cx="527.0" cy="123.3" r="1.8" fill="#fd0101"/>
<circle cx="528.1" cy="127.0" r="1.8" fill="#fd0101"/>
<circle cx="529.7" cy="127.5" r="1.8" fill="#fd0101"/>
<circle cx="524.0" cy="153.2" r="1.8" fill="#fd0101"/>
<circle cx="531.5" cy="150.8" r="1.8" fill="#fd0101"/>
<circle cx="530.8" cy="123.2" r="1.8" fill="#fd0101"/>
<circle cx="520.6" cy="118.5" r="1.8" fill="#fd0101"/>
<circle cx="523.1" cy="115.2" r="1.8" fill="#fd0101"/>
<circle cx="578.7" cy="109.6" r="1.8" fill="#fd0101"/>
<circle cx="580.7" cy="123.9" r="1.8" fill="#fd0101"/>
<circle cx="584.8" cy="131.5" r="1.8" fill="#fd0101"/>
<circle cx="577.6" cy="158.6" r="1.8" fill="#fd0101"/>
<circle cx="579.8" cy="145.3" r="1.8" fill="#fd0101"/>
<circle cx="579.1" cy="160.5" r="1.8" fill="#fd0101"/>
<circle cx="576.3" cy="110.9" r="1.8" fill="#fd0101"/>
<circle cx="579.0" cy="137.4" r="1.8" fill="#fd0101"/>
<circle cx="585.1" cy="157.5" r="1.8" fill="#fd0101"/>
<circle cx="576.9" cy="114.9" r="1.8" fill="#fd0101"/>
<circle cx="585.7" cy="144.7" r="1.8" fill="#fd0101"/>
<circle cx="576.8" cy="155.4" r="1.8" fill="#fd0101"/>
<circle cx="577.6" cy="122.0" r="1.8" fill="#fd0101"/>
<circle cx="575.7" cy="154.6" r="1.8" fill="#fd0101"/>
<circle cx="580.5" cy="130.1" r="1.8" fill="#fd0101"/>
<circle cx="586.4" cy="130.3" r="1.8" fill="#fd0101"/>
<circle cx="582.3" cy="113.1" r="1.8" fill="#fd0101"/>
<circle cx="586.6" cy="103.3" r="1.8" fill="#fd0101"/>
<circle cx="579.3" cy="167.1" r="1.8" fill="#fd0101"/>
<circle cx="588.1" cy="131.2" r="1.8" fill="#fd0101"/>
<circle cx="579.2" cy="117.4" r="1.8" fill="#fd0101"/>
<circle cx="579.6" cy="151.5" r="1.8" fill="#fd0101"/>
<circle cx="582.6" cy="136.7" r="1.8" fill="#fd0101"/>
<circle cx="577.3" cy="121.8" r="1.8" fill="#fd0101"/>
<circle cx="578.6" cy="107.4" r="1.8" fill="#fd0101"/>
<circle cx="577.5" cy="141.3" r="1.8" fill="#fd0101"/>
<circle cx="585.6" cy="105.9" r="1.8" fill="#fd0101"/>
<circle cx="579.7" cy="161.7" r="1.8" fill="#fd0101"/>
<circle cx="587.8" cy="161.3" r="1.8" fill="#fd0101"/>
<circle cx="575.9" cy="161.5" r="1.8" fill="#fd0101"/>
<circle cx="575.5" cy="151.4" r="1.8" fill="#fd0101"/>
<circle cx="577.7" cy="114.2" r="1.8" fill="#fd0101"/>
<circle cx="583.4" cy="137.1" r="1.8" fill="#fd0101"/>
<circle cx="582.7" cy="129.9" r="1.8" fill="#fd0101"/>
<circle cx="578.1" cy="125.2" r="1.8" fill="#fd0101"/>
<circle cx="579.4" cy="119.4" r="1.8" fill="#fd0101"/>
<circle cx="580.2" cy="153.9" r="1.8" fill="#fd0101"/>
<circle cx="577.4" cy="125.9" r="1.8" fill="#fd0101"/>
<circle cx="582.0" cy="156.1" r="1.8" fill="#fd0101"/>
<circle cx="578.5" cy="114.1" r="1.8" fill="#fd0101"/>
<polygon points="524.6,170.0 575.0,170.0 579.0,172.0 584.0,173.0 583.0,178.0 587.0,184.0 590.0,189.0 592.0,193.0 585.0,196.0 588.0,200.0 592.0,205.0 588.5,210.0 591.0,214.0 596.7,216.2 590.0,220.0 598.5,223.9 605.0,219.0 611.1,215.8 612.0,218.0 601.0,225.0 592.0,230.0 588.0,232.0 593.0,233.5 599.0,235.0 605.0,236.0 610.0,236.5 616.5,239.5 613.0,242.0 603.0,244.0 607.0,248.0 610.0,250.5 604.0,253.0 599.8,256.0 596.0,260.0 590.0,263.0 575.3,268.5 573.0,273.5 546.0,273.5 545.8,269.7 541.5,267.7 528.0,262.6 518.0,261.0 506.0,258.4 501.8,254.1 499.5,248.0 497.5,242.0 500.0,240.4 507.9,237.0 508.9,229.0 512.9,222.0 511.2,218.0 507.6,216.0 503.0,214.0 498.5,213.0 497.5,209.5 500.0,207.6 521.0,207.6 525.7,204.0 530.5,198.0 531.0,190.0 531.0,182.0 530.0,176.0 526.0,172.0" fill="#4c4c4c"/>
<circle cx="577.7" cy="169.8" r="1.8" fill="#4c4c4c"/>
<circle cx="581.8" cy="171.3" r="1.8" fill="#4c4c4c"/>
<circle cx="583.3" cy="173.9" r="1.8" fill="#4c4c4c"/>
<circle cx="583.4" cy="179.4" r="1.8" fill="#4c4c4c"/>
<circle cx="583.9" cy="180.1" r="1.8" fill="#4c4c4c"/>
<circle cx="586.1" cy="185.3" r="1.8" fill="#4c4c4c"/>
<circle cx="588.3" cy="187.8" r="1.8" fill="#4c4c4c"/>
<circle cx="589.9" cy="189.4" r="1.8" fill="#4c4c4c"/>
<circle cx="590.8" cy="193.2" r="1.8" fill="#4c4c4c"/>
<circle cx="587.7" cy="193.8" r="1.8" fill="#4c4c4c"/>
<circle cx="586.5" cy="197.0" r="1.8" fill="#4c4c4c"/>
<circle cx="587.3" cy="199.8" r="1.8" fill="#4c4c4c"/>
<circle cx="591.4" cy="203.1" r="1.8" fill="#4c4c4c"/>
<circle cx="591.5" cy="206.0" r="1.8" fill="#4c4c4c"/>
<circle cx="589.8" cy="208.5" r="1.8" fill="#4c4c4c"/>
<circle cx="589.6" cy="210.9" r="1.8" fill="#4c4c4c"/>
<circle cx="591.5" cy="214.6" r="1.8" fill="#4c4c4c"/>
<circle cx="593.8" cy="215.0" r="1.8" fill="#4c4c4c"/>
<circle cx="596.0" cy="216.9" r="1.8" fill="#4c4c4c"/>
<circle cx="592.2" cy="218.6" r="1.8" fill="#4c4c4c"/>
<circle cx="589.9" cy="221.1" r="1.8" fill="#4c4c4c"/>
<circle cx="594.9" cy="222.5" r="1.8" fill="#4c4c4c"/>
<circle cx="597.4" cy="223.3" r="1.8" fill="#4c4c4c"/>
<circle cx="598.8" cy="222.6" r="1.8" fill="#4c4c4c"/>
<circle cx="601.5" cy="221.0" r="1.8" fill="#4c4c4c"/>
<circle cx="602.0" cy="221.5" r="1.8" fill="#4c4c4c"/>
<circle cx="604.2" cy="219.6" r="1.8" fill="#4c4c4c"/>
<circle cx="609.1" cy="217.7" r="1.8" fill="#4c4c4c"/>
<circle cx="612.6" cy="217.1" r="1.8" fill="#4c4c4c"/>
<circle cx="609.8" cy="219.3" r="1.8" fill="#4c4c4c"/>
<circle cx="609.6" cy="218.9" r="1.8" fill="#4c4c4c"/>
<circle cx="607.7" cy="220.4" r="1.8" fill="#4c4c4c"/>
<circle cx="605.1" cy="223.3" r="1.8" fill="#4c4c4c"/>
<circle cx="602.1" cy="223.2" r="1.8" fill="#4c4c4c"/>
<circle cx="600.5" cy="225.4" r="1.8" fill="#4c4c4c"/>
<circle cx="597.1" cy="226.7" r="1.8" fill="#4c4c4c"/>
<circle cx="593.2" cy="228.8" r="1.8" fill="#4c4c4c"/>
<circle cx="589.5" cy="231.8" r="1.8" fill="#4c4c4c"/>
<circle cx="588.7" cy="232.7" r="1.8" fill="#4c4c4c"/>
<circle cx="591.6" cy="233.0" r="1.8" fill="#4c4c4c"/>
<circle cx="595.1" cy="232.9" r="1.8" fill="#4c4c4c"/>
<circle cx="596.8" cy="235.3" r="1.8" fill="#4c4c4c"/>
<circle cx="599.8" cy="235.7" r="1.8" fill="#4c4c4c"/>
<circle cx="601.8" cy="234.8" r="1.8" fill="#4c4c4c"/>
<circle cx="606.3" cy="235.5" r="1.8" fill="#4c4c4c"/>
<circle cx="612.4" cy="236.6" r="1.8" fill="#4c4c4c"/>
<circle cx="614.4" cy="239.5" r="1.8" fill="#4c4c4c"/>
<circle cx="614.7" cy="239.7" r="1.8" fill="#4c4c4c"/>
<circle cx="612.9" cy="241.7" r="1.8" fill="#4c4c4c"/>
<circle cx="609.0" cy="242.3" r="1.8" fill="#4c4c4c"/>
<circle cx="603.9" cy="244.8" r="1.8" fill="#4c4c4c"/>
<circle cx="603.8" cy="244.5" r="1.8" fill="#4c4c4c"/>
<circle cx="606.8" cy="247.1" r="1.8" fill="#4c4c4c"/>
<circle cx="608.4" cy="249.6" r="1.8" fill="#4c4c4c"/>
<circle cx="609.8" cy="251.9" r="1.8" fill="#4c4c4c"/>
<circle cx="605.5" cy="251.5" r="1.8" fill="#4c4c4c"/>
<circle cx="602.6" cy="255.4" r="1.8" fill="#4c4c4c"/>
<circle cx="598.2" cy="256.3" r="1.8" fill="#4c4c4c"/>
<circle cx="596.9" cy="258.8" r="1.8" fill="#4c4c4c"/>
<circle cx="595.4" cy="260.2" r="1.8" fill="#4c4c4c"/>
<circle cx="591.0" cy="262.1" r="1.8" fill="#4c4c4c"/>
<circle cx="587.9" cy="262.4" r="1.8" fill="#4c4c4c"/>
<circle cx="585.8" cy="264.0" r="1.8" fill="#4c4c4c"/>
<circle cx="584.7" cy="264.0" r="1.8" fill="#4c4c4c"/>
<circle cx="582.0" cy="265.9" r="1.8" fill="#4c4c4c"/>
<circle cx="580.1" cy="267.9" r="1.8" fill="#4c4c4c"/>
<circle cx="577.3" cy="266.9" r="1.8" fill="#4c4c4c"/>
<circle cx="575.5" cy="268.0" r="1.8" fill="#4c4c4c"/>
<circle cx="574.5" cy="271.4" r="1.8" fill="#4c4c4c"/>
<circle cx="545.6" cy="272.0" r="1.8" fill="#4c4c4c"/>
<circle cx="543.4" cy="269.2" r="1.8" fill="#4c4c4c"/>
<circle cx="541.2" cy="266.7" r="1.8" fill="#4c4c4c"/>
<circle cx="538.7" cy="266.6" r="1.8" fill="#4c4c4c"/>
<circle cx="534.3" cy="265.3" r="1.8" fill="#4c4c4c"/>
<circle cx="533.4" cy="264.9" r="1.8" fill="#4c4c4c"/>
<circle cx="529.0" cy="263.6" r="1.8" fill="#4c4c4c"/>
<circle cx="526.0" cy="263.3" r="1.8" fill="#4c4c4c"/>
<circle cx="522.5" cy="262.9" r="1.8" fill="#4c4c4c"/>
<circle cx="520.6" cy="262.0" r="1.8" fill="#4c4c4c"/>
<circle cx="517.1" cy="261.1" r="1.8" fill="#4c4c4c"/>
<circle cx="513.7" cy="259.4" r="1.8" fill="#4c4c4c"/>
<circle cx="512.4" cy="260.3" r="1.8" fill="#4c4c4c"/>
<circle cx="508.6" cy="258.5" r="1.8" fill="#4c4c4c"/>
<circle cx="505.4" cy="259.0" r="1.8" fill="#4c4c4c"/>
<circle cx="503.9" cy="255.6" r="1.8" fill="#4c4c4c"/>
<circle cx="500.9" cy="252.3" r="1.8" fill="#4c4c4c"/>
<circle cx="500.5" cy="251.0" r="1.8" fill="#4c4c4c"/>
<circle cx="500.1" cy="246.4" r="1.8" fill="#4c4c4c"/>
<circle cx="497.4" cy="243.6" r="1.8" fill="#4c4c4c"/>
<circle cx="499.2" cy="240.5" r="1.8" fill="#4c4c4c"/>
<circle cx="500.1" cy="240.9" r="1.8" fill="#4c4c4c"/>
<circle cx="504.5" cy="238.9" r="1.8" fill="#4c4c4c"/>
<circle cx="505.3" cy="237.3" r="1.8" fill="#4c4c4c"/>
<circle cx="508.2" cy="235.4" r="1.8" fill="#4c4c4c"/>
<circle cx="509.0" cy="232.8" r="1.8" fill="#4c4c4c"/>
<circle cx="509.7" cy="231.5" r="1.8" fill="#4c4c4c"/>
<circle cx="509.3" cy="228.7" r="1.8" fill="#4c4c4c"/>
<circle cx="511.9" cy="226.2" r="1.8" fill="#4c4c4c"/>
<circle cx="512.7" cy="223.9" r="1.8" fill="#4c4c4c"/>
<circle cx="512.8" cy="219.4" r="1.8" fill="#4c4c4c"/>
<circle cx="509.9" cy="217.1" r="1.8" fill="#4c4c4c"/>
<circle cx="506.1" cy="214.6" r="1.8" fill="#4c4c4c"/>
<circle cx="500.5" cy="213.7" r="1.8" fill="#4c4c4c"/>
<circle cx="498.0" cy="211.8" r="1.8" fill="#4c4c4c"/>
<circle cx="499.9" cy="207.5" r="1.8" fill="#4c4c4c"/>
<circle cx="501.5" cy="206.5" r="1.8" fill="#4c4c4c"/>
<circle cx="502.6" cy="206.6" r="1.8" fill="#4c4c4c"/>
<circle cx="507.1" cy="207.2" r="1.8" fill="#4c4c4c"/>
<circle cx="509.7" cy="206.7" r="1.8" fill="#4c4c4c"/>
<circle cx="512.1" cy="208.6" r="1.8" fill="#4c4c4c"/>
<circle cx="514.8" cy="207.2" r="1.8" fill="#4c4c4c"/>
<circle cx="518.1" cy="208.5" r="1.8" fill="#4c4c4c"/>
<circle cx="519.7" cy="207.6" r="1.8" fill="#4c4c4c"/>
<circle cx="520.1" cy="206.5" r="1.8" fill="#4c4c4c"/>
<circle cx="522.8" cy="205.6" r="1.8" fill="#4c4c4c"/>
<circle cx="526.8" cy="202.6" r="1.8" fill="#4c4c4c"/>
<circle cx="528.6" cy="199.7" r="1.8" fill="#4c4c4c"/>
<circle cx="530.3" cy="196.0" r="1.8" fill="#4c4c4c"/>
<circle cx="531.3" cy="193.6" r="1.8" fill="#4c4c4c"/>
<circle cx="530.9" cy="192.3" r="1.8" fill="#4c4c4c"/>
<circle cx="529.8" cy="188.9" r="1.8" fill="#4c4c4c"/>
<circle cx="530.1" cy="186.0" r="1.8" fill="#4c4c4c"/>
<circle cx="530.3" cy="183.6" r="1.8" fill="#4c4c4c"/>
<circle cx="530.1" cy="180.1" r="1.8" fill="#4c4c4c"/>
<circle cx="529.7" cy="178.8" r="1.8" fill="#4c4c4c"/>
<circle cx="528.8" cy="175.8" r="1.8" fill="#4c4c4c"/>
<circle cx="528.0" cy="172.4" r="1.8" fill="#4c4c4c"/>
<circle cx="525.4" cy="170.4" r="1.8" fill="#4c4c4c"/>
<polygon points="492.0,269.9 610.0,269.9 610.0,273.5 492.0,273.5" fill="#4c4c4c"/>
<circle cx="492.3" cy="271.7" r="1.8" fill="#4c4c4c"/>
<circle cx="609.5" cy="271.7" r="1.8" fill="#4c4c4c"/>
<circle cx="416.4" cy="271.7" r="1.8" fill="#4c4c4c"/>
<circle cx="418.5" cy="271.7" r="1.8" fill="#4c4c4c"/>
<circle cx="420.5" cy="271.7" r="1.8" fill="#4c4c4c"/>
<circle cx="422.5" cy="271.7" r="1.8" fill="#4c4c4c"/>
<circle cx="424.5" cy="271.7" r="1.8" fill="#4c4c4c"/>
<circle cx="426.5" cy="271.7" r="1.8" fill="#4c4c4c"/>
<circle cx="428.5" cy="271.7" r="1.8" fill="#4c4c4c"/>
<circle cx="430.0" cy="271.7" r="1.8" fill="#4c4c4c"/>
<circle cx="433.2" cy="271.7" r="1.8" fill="#4c4c4c"/>
<circle cx="435.6" cy="271.7" r="1.8" fill="#4c4c4c"/>
<circle cx="448.2" cy="271.7" r="1.8" fill="#4c4c4c"/>
<circle cx="455.0" cy="271.7" r="1.8" fill="#4c4c4c"/>
<circle cx="459.0" cy="271.7" r="1.8" fill="#4c4c4c"/>
<circle cx="461.0" cy="271.7" r="1.8" fill="#4c4c4c"/>
<circle cx="463.0" cy="271.7" r="1.8" fill="#4c4c4c"/>
<circle cx="465.5" cy="271.7" r="1.8" fill="#4c4c4c"/>
<circle cx="473.5" cy="271.7" r="1.8" fill="#4c4c4c"/>
<circle cx="477.6" cy="271.7" r="1.8" fill="#4c4c4c"/>
<circle cx="482.0" cy="271.7" r="1.8" fill="#4c4c4c"/>
<circle cx="486.0" cy="271.7" r="1.8" fill="#4c4c4c"/>
<circle cx="488.5" cy="271.7" r="1.8" fill="#4c4c4c"/>
<circle cx="613.0" cy="271.7" r="1.8" fill="#4c4c4c"/>
<circle cx="615.0" cy="271.7" r="1.8" fill="#4c4c4c"/>
<circle cx="617.5" cy="271.7" r="1.8" fill="#4c4c4c"/>
<circle cx="620.0" cy="271.7" r="1.8" fill="#4c4c4c"/>
<circle cx="622.7" cy="271.7" r="1.8" fill="#4c4c4c"/>
<circle cx="626.0" cy="271.7" r="1.8" fill="#4c4c4c"/>
<circle cx="628.0" cy="271.7" r="1.8" fill="#4c4c4c"/>
<circle cx="630.5" cy="271.7" r="1.8" fill="#4c4c4c"/>
<circle cx="632.5" cy="271.7" r="1.8" fill="#4c4c4c"/>
<circle cx="634.5" cy="271.7" r="1.8" fill="#4c4c4c"/>
<circle cx="640.4" cy="271.7" r="1.8" fill="#4c4c4c"/>
<circle cx="643.0" cy="271.7" r="1.8" fill="#4c4c4c"/>
<circle cx="645.5" cy="271.7" r="1.8" fill="#4c4c4c"/>
<circle cx="648.0" cy="271.7" r="1.8" fill="#4c4c4c"/>
<circle cx="650.6" cy="271.7" r="1.8" fill="#4c4c4c"/>
<circle cx="653.0" cy="271.7" r="1.8" fill="#4c4c4c"/>
<circle cx="655.5" cy="271.7" r="1.8" fill="#4c4c4c"/>
<circle cx="658.0" cy="271.7" r="1.8" fill="#4c4c4c"/>
<circle cx="660.5" cy="271.7" r="1.8" fill="#4c4c4c"/>
<circle cx="663.0" cy="271.7" r="1.8" fill="#4c4c4c"/>
<circle cx="665.0" cy="271.7" r="1.8" fill="#4c4c4c"/>
<circle cx="668.8" cy="271.7" r="1.8" fill="#4c4c4c"/>
<circle cx="672.0" cy="271.7" r="1.8" fill="#4c4c4c"/>
<circle cx="676.0" cy="271.7" r="1.8" fill="#4c4c4c"/>
<circle cx="680.0" cy="271.7" r="1.8" fill="#4c4c4c"/>
<circle cx="684.0" cy="271.7" r="1.8" fill="#4c4c4c"/>
<circle cx="690.3" cy="271.7" r="1.8" fill="#4c4c4c"/>
<circle cx="692.0" cy="271.7" r="1.8" fill="#4c4c4c"/>
<circle cx="694.0" cy="271.7" r="1.8" fill="#4c4c4c"/>
<circle cx="696.0" cy="271.7" r="1.8" fill="#4c4c4c"/>
<circle cx="698.6" cy="271.7" r="1.8" fill="#4c4c4c"/>
<circle cx="518.2" cy="175.1" r="1.8" fill="#4c4c4c"/>
<circle cx="522.9" cy="178.2" r="1.8" fill="#4c4c4c"/>
<circle cx="522.1" cy="184.9" r="1.8" fill="#4c4c4c"/>
<circle cx="500.1" cy="189.2" r="1.8" fill="#4c4c4c"/>
<circle cx="506.8" cy="189.7" r="1.8" fill="#4c4c4c"/>
<circle cx="508.2" cy="195.9" r="1.8" fill="#4c4c4c"/>
<circle cx="510.7" cy="198.5" r="1.8" fill="#4c4c4c"/>
<circle cx="521.2" cy="191.7" r="1.8" fill="#4c4c4c"/>
<circle cx="518.7" cy="203.5" r="1.8" fill="#4c4c4c"/>
<circle cx="517.0" cy="204.9" r="1.8" fill="#4c4c4c"/>
<circle cx="487.0" cy="212.3" r="1.8" fill="#4c4c4c"/>
<circle cx="491.1" cy="209.0" r="1.8" fill="#4c4c4c"/>
<circle cx="493.3" cy="213.3" r="1.8" fill="#4c4c4c"/>
<circle cx="495.0" cy="209.5" r="1.8" fill="#4c4c4c"/>
<circle cx="459.1" cy="237.2" r="1.8" fill="#4c4c4c"/>
<circle cx="483.7" cy="234.2" r="1.8" fill="#4c4c4c"/>
<circle cx="441.4" cy="252.1" r="1.8" fill="#4c4c4c"/>
<circle cx="480.1" cy="250.4" r="1.8" fill="#4c4c4c"/>
<circle cx="506.8" cy="261.3" r="1.8" fill="#4c4c4c"/>
<circle cx="504.0" cy="235.5" r="1.8" fill="#4c4c4c"/>
<circle cx="510.2" cy="229.1" r="1.8" fill="#4c4c4c"/>
<circle cx="479.0" cy="250.1" r="1.8" fill="#4c4c4c"/>
<circle cx="603.6" cy="180.7" r="1.8" fill="#4c4c4c"/>
<circle cx="604.9" cy="200.5" r="1.8" fill="#4c4c4c"/>
<circle cx="606.6" cy="202.7" r="1.8" fill="#4c4c4c"/>
<circle cx="616.8" cy="215.7" r="1.8" fill="#4c4c4c"/>
<circle cx="627.4" cy="216.2" r="1.8" fill="#4c4c4c"/>
<circle cx="626.9" cy="220.8" r="1.8" fill="#4c4c4c"/>
<circle cx="597.3" cy="210.3" r="1.8" fill="#4c4c4c"/>
<circle cx="600.7" cy="214.0" r="1.8" fill="#4c4c4c"/>
<circle cx="595.3" cy="192.0" r="1.8" fill="#4c4c4c"/>
<circle cx="591.4" cy="188.3" r="1.8" fill="#4c4c4c"/>
<circle cx="635.0" cy="234.7" r="1.8" fill="#4c4c4c"/>
<circle cx="631.1" cy="241.0" r="1.8" fill="#4c4c4c"/>
<circle cx="618.5" cy="251.1" r="1.8" fill="#4c4c4c"/>
<circle cx="626.9" cy="222.0" r="1.8" fill="#4c4c4c"/>
<circle cx="616.3" cy="239.8" r="1.8" fill="#4c4c4c"/>
<circle cx="613.4" cy="241.0" r="1.8" fill="#4c4c4c"/>
<circle cx="610.0" cy="247.4" r="1.8" fill="#4c4c4c"/>
<circle cx="606.6" cy="252.5" r="1.8" fill="#4c4c4c"/>
<circle cx="599.3" cy="259.6" r="1.8" fill="#4c4c4c"/>
<circle cx="630.7" cy="240.6" r="1.8" fill="#4c4c4c"/>
<circle cx="629.0" cy="215.4" r="1.8" fill="#4c4c4c"/>
<circle cx="576.7" cy="176.1" r="1.8" fill="#4c4c4c"/>
<circle cx="584.0" cy="178.4" r="1.8" fill="#4c4c4c"/>
<circle cx="588.0" cy="179.7" r="1.8" fill="#4c4c4c"/>
<circle cx="580.8" cy="180.2" r="1.8" fill="#4c4c4c"/>
<circle cx="586.7" cy="184.3" r="1.8" fill="#4c4c4c"/>
<circle cx="591.6" cy="187.9" r="1.8" fill="#4c4c4c"/>
<circle cx="594.4" cy="192.0" r="1.8" fill="#4c4c4c"/>
<circle cx="590.7" cy="191.0" r="1.8" fill="#4c4c4c"/>
<circle cx="582.0" cy="172.5" r="1.8" fill="#4c4c4c"/>
<circle cx="579.0" cy="174.0" r="1.8" fill="#4c4c4c"/>
<circle cx="604.8" cy="200.4" r="1.8" fill="#4c4c4c"/>
<circle cx="606.6" cy="202.7" r="1.8" fill="#4c4c4c"/>
<circle cx="597.1" cy="210.4" r="1.8" fill="#4c4c4c"/>
<circle cx="600.6" cy="214.4" r="1.8" fill="#4c4c4c"/>
<circle cx="616.6" cy="215.8" r="1.8" fill="#4c4c4c"/>
<circle cx="627.0" cy="221.2" r="1.8" fill="#4c4c4c"/>
<circle cx="526.6" cy="195.9" r="1.8" fill="#4c4c4c"/>
<circle cx="527.0" cy="202.2" r="1.8" fill="#4c4c4c"/>
<circle cx="522.5" cy="178.5" r="1.8" fill="#4c4c4c"/>
<circle cx="521.5" cy="185.0" r="1.8" fill="#4c4c4c"/>
<circle cx="525.0" cy="182.0" r="1.8" fill="#4c4c4c"/>
<circle cx="528.0" cy="180.5" r="1.8" fill="#4c4c4c"/>
<circle cx="524.0" cy="190.0" r="1.8" fill="#4c4c4c"/>
<circle cx="527.5" cy="188.0" r="1.8" fill="#4c4c4c"/>
<circle cx="529.0" cy="195.0" r="1.8" fill="#4c4c4c"/>
<circle cx="526.0" cy="174.0" r="1.8" fill="#4c4c4c"/>
<circle cx="528.5" cy="176.0" r="1.8" fill="#4c4c4c"/>
<circle cx="524.5" cy="171.5" r="1.8" fill="#4c4c4c"/>
<circle cx="519.8" cy="204.0" r="1.8" fill="#4c4c4c"/>
<circle cx="516.2" cy="204.9" r="1.8" fill="#4c4c4c"/>
<circle cx="511.2" cy="198.6" r="1.8" fill="#4c4c4c"/>
<circle cx="507.6" cy="195.9" r="1.8" fill="#4c4c4c"/>
<circle cx="503.9" cy="235.4" r="1.8" fill="#4c4c4c"/>
<polygon points="556.3,101.0 563.0,101.0 561.9,170.0 560.9,215.0 559.7,246.0 559.5,246.0 558.6,215.0 557.7,170.0" fill="#fff"/>
<polygon points="423.1,45.9 427.1,49.9 423.1,53.9 419.1,49.9" fill="none" stroke="#e03030" stroke-width="0.9"/>
<polygon points="423.1,65.8 427.1,69.8 423.1,73.8 419.1,69.8" fill="none" stroke="#e03030" stroke-width="0.9"/>
<polygon points="423.1,74.0 427.1,78.0 423.1,82.0 419.1,78.0" fill="none" stroke="#e03030" stroke-width="0.9"/>
<polygon points="423.1,78.5 427.1,82.5 423.1,86.5 419.1,82.5" fill="none" stroke="#e03030" stroke-width="0.9"/>
<polygon points="423.1,83.0 427.1,87.0 423.1,91.0 419.1,87.0" fill="none" stroke="#e03030" stroke-width="0.9"/>
<polygon points="423.1,87.0 427.1,91.0 423.1,95.0 419.1,91.0" fill="none" stroke="#e03030" stroke-width="0.9"/>
<polygon points="423.1,91.0 427.1,95.0 423.1,99.0 419.1,95.0" fill="none" stroke="#e03030" stroke-width="0.9"/>
<polygon points="423.1,95.0 427.1,99.0 423.1,103.0 419.1,99.0" fill="none" stroke="#e03030" stroke-width="0.9"/>
<polygon points="423.1,99.0 427.1,103.0 423.1,107.0 419.1,103.0" fill="none" stroke="#e03030" stroke-width="0.9"/>
<polygon points="423.1,103.0 427.1,107.0 423.1,111.0 419.1,107.0" fill="none" stroke="#e03030" stroke-width="0.9"/>
<polygon points="423.1,107.0 427.1,111.0 423.1,115.0 419.1,111.0" fill="none" stroke="#e03030" stroke-width="0.9"/>
<polygon points="423.1,111.0 427.1,115.0 423.1,119.0 419.1,115.0" fill="none" stroke="#e03030" stroke-width="0.9"/>
<polygon points="423.1,115.0 427.1,119.0 423.1,123.0 419.1,119.0" fill="none" stroke="#e03030" stroke-width="0.9"/>
<polygon points="423.1,119.5 427.1,123.5 423.1,127.5 419.1,123.5" fill="none" stroke="#e03030" stroke-width="0.9"/>
<polygon points="423.1,133.5 427.1,137.5 423.1,141.5 419.1,137.5" fill="none" stroke="#e03030" stroke-width="0.9"/>
<polygon points="423.1,138.5 427.1,142.5 423.1,146.5 419.1,142.5" fill="none" stroke="#e03030" stroke-width="0.9"/>
<polygon points="423.1,141.0 427.1,145.0 423.1,149.0 419.1,145.0" fill="none" stroke="#e03030" stroke-width="0.9"/>
<polygon points="423.1,143.2 427.1,147.2 423.1,151.2 419.1,147.2" fill="none" stroke="#e03030" stroke-width="0.9"/>
<polygon points="423.1,145.0 427.1,149.0 423.1,153.0 419.1,149.0" fill="none" stroke="#e03030" stroke-width="0.9"/>
<polygon points="423.1,154.5 427.1,158.5 423.1,162.5 419.1,158.5" fill="none" stroke="#e03030" stroke-width="0.9"/>
<polygon points="696.4,46.2 700.4,50.2 696.4,54.2 692.4,50.2" fill="none" stroke="#e03030" stroke-width="0.9"/>
<polygon points="696.4,65.8 700.4,69.8 696.4,73.8 692.4,69.8" fill="none" stroke="#e03030" stroke-width="0.9"/>
<polygon points="696.4,76.4 700.4,80.4 696.4,84.4 692.4,80.4" fill="none" stroke="#e03030" stroke-width="0.9"/>
<polygon points="696.4,82.7 700.4,86.7 696.4,90.7 692.4,86.7" fill="none" stroke="#e03030" stroke-width="0.9"/>
<polygon points="696.4,88.0 700.4,92.0 696.4,96.0 692.4,92.0" fill="none" stroke="#e03030" stroke-width="0.9"/>
<polygon points="696.4,92.2 700.4,96.2 696.4,100.2 692.4,96.2" fill="none" stroke="#e03030" stroke-width="0.9"/>
<polygon points="696.4,95.3 700.4,99.3 696.4,103.3 692.4,99.3" fill="none" stroke="#e03030" stroke-width="0.9"/>
<polygon points="696.4,98.5 700.4,102.5 696.4,106.5 692.4,102.5" fill="none" stroke="#e03030" stroke-width="0.9"/>
<polygon points="696.4,102.0 700.4,106.0 696.4,110.0 692.4,106.0" fill="none" stroke="#e03030" stroke-width="0.9"/>
<polygon points="696.4,104.0 700.4,108.0 696.4,112.0 692.4,108.0" fill="none" stroke="#e03030" stroke-width="0.9"/>
<polygon points="696.4,107.9 700.4,111.9 696.4,115.9 692.4,111.9" fill="none" stroke="#e03030" stroke-width="0.9"/>
<polygon points="696.4,111.0 700.4,115.0 696.4,119.0 692.4,115.0" fill="none" stroke="#e03030" stroke-width="0.9"/>
<polygon points="696.4,118.4 700.4,122.4 696.4,126.4 692.4,122.4" fill="none" stroke="#e03030" stroke-width="0.9"/>
<polygon points="696.4,133.2 700.4,137.2 696.4,141.2 692.4,137.2" fill="none" stroke="#e03030" stroke-width="0.9"/>
<polygon points="696.4,136.4 700.4,140.4 696.4,144.4 692.4,140.4" fill="none" stroke="#e03030" stroke-width="0.9"/>
<polygon points="696.4,141.6 700.4,145.6 696.4,149.6 692.4,145.6" fill="none" stroke="#e03030" stroke-width="0.9"/>
<polygon points="696.4,145.9 700.4,149.9 696.4,153.9 692.4,149.9" fill="none" stroke="#e03030" stroke-width="0.9"/>
<polygon points="696.4,149.0 700.4,153.0 696.4,157.0 692.4,153.0" fill="none" stroke="#e03030" stroke-width="0.9"/>
<polygon points="423.1,207.6 427.1,211.6 423.1,215.6 419.1,211.6" fill="none" stroke="#555" stroke-width="0.9"/>
<polygon points="423.1,211.7 427.1,215.7 423.1,219.7 419.1,215.7" fill="none" stroke="#555" stroke-width="0.9"/>
<polygon points="423.1,212.4 427.1,216.4 423.1,220.4 419.1,216.4" fill="none" stroke="#555" stroke-width="0.9"/>
<polygon points="423.1,213.1 427.1,217.1 423.1,221.1 419.1,217.1" fill="none" stroke="#555" stroke-width="0.9"/>
<polygon points="423.1,213.8 427.1,217.8 423.1,221.8 419.1,217.8" fill="none" stroke="#555" stroke-width="0.9"/>
<polygon points="423.1,214.5 427.1,218.5 423.1,222.5 419.1,218.5" fill="none" stroke="#555" stroke-width="0.9"/>
<polygon points="423.1,215.2 427.1,219.2 423.1,223.2 419.1,219.2" fill="none" stroke="#555" stroke-width="0.9"/>
<polygon points="423.1,215.9 427.1,219.9 423.1,223.9 419.1,219.9" fill="none" stroke="#555" stroke-width="0.9"/>
<polygon points="423.1,216.6 427.1,220.6 423.1,224.6 419.1,220.6" fill="none" stroke="#555" stroke-width="0.9"/>
<polygon points="423.1,217.3 427.1,221.3 423.1,225.3 419.1,221.3" fill="none" stroke="#555" stroke-width="0.9"/>
<polygon points="423.1,218.0 427.1,222.0 423.1,226.0 419.1,222.0" fill="none" stroke="#555" stroke-width="0.9"/>
<polygon points="423.1,218.7 427.1,222.7 423.1,226.7 419.1,222.7" fill="none" stroke="#555" stroke-width="0.9"/>
<polygon points="423.1,219.4 427.1,223.4 423.1,227.4 419.1,223.4" fill="none" stroke="#555" stroke-width="0.9"/>
<polygon points="423.1,220.1 427.1,224.1 423.1,228.1 419.1,224.1" fill="none" stroke="#555" stroke-width="0.9"/>
<polygon points="423.1,220.8 427.1,224.8 423.1,228.8 419.1,224.8" fill="none" stroke="#555" stroke-width="0.9"/>
<polygon points="423.1,221.5 427.1,225.5 423.1,229.5 419.1,225.5" fill="none" stroke="#555" stroke-width="0.9"/>
<polygon points="423.1,222.2 427.1,226.2 423.1,230.2 419.1,226.2" fill="none" stroke="#555" stroke-width="0.9"/>
<polygon points="423.1,222.9 427.1,226.9 423.1,230.9 419.1,226.9" fill="none" stroke="#555" stroke-width="0.9"/>
<polygon points="423.1,223.6 427.1,227.6 423.1,231.6 419.1,227.6" fill="none" stroke="#555" stroke-width="0.9"/>
<polygon points="423.1,224.3 427.1,228.3 423.1,232.3 419.1,228.3" fill="none" stroke="#555" stroke-width="0.9"/>
<polygon points="423.1,225.0 427.1,229.0 423.1,233.0 419.1,229.0" fill="none" stroke="#555" stroke-width="0.9"/>
<polygon points="423.1,225.7 427.1,229.7 423.1,233.7 419.1,229.7" fill="none" stroke="#555" stroke-width="0.9"/>
<polygon points="423.1,226.4 427.1,230.4 423.1,234.4 419.1,230.4" fill="none" stroke="#555" stroke-width="0.9"/>
<polygon points="423.1,227.1 427.1,231.1 423.1,235.1 419.1,231.1" fill="none" stroke="#555" stroke-width="0.9"/>
<polygon points="423.1,227.8 427.1,231.8 423.1,235.8 419.1,231.8" fill="none" stroke="#555" stroke-width="0.9"/>
<polygon points="423.1,228.5 427.1,232.5 423.1,236.5 419.1,232.5" fill="none" stroke="#555" stroke-width="0.9"/>
<polygon points="423.1,229.2 427.1,233.2 423.1,237.2 419.1,233.2" fill="none" stroke="#555" stroke-width="0.9"/>
<polygon points="423.1,229.9 427.1,233.9 423.1,237.9 419.1,233.9" fill="none" stroke="#555" stroke-width="0.9"/>
<polygon points="423.1,230.6 427.1,234.6 423.1,238.6 419.1,234.6" fill="none" stroke="#555" stroke-width="0.9"/>
<polygon points="423.1,231.3 427.1,235.3 423.1,239.3 419.1,235.3" fill="none" stroke="#555" stroke-width="0.9"/>
<polygon points="423.1,232.0 427.1,236.0 423.1,240.0 419.1,236.0" fill="none" stroke="#555" stroke-width="0.9"/>
<polygon points="423.1,234.9 427.1,238.9 423.1,242.9 419.1,238.9" fill="none" stroke="#555" stroke-width="0.9"/>
<polygon points="423.1,238.2 427.1,242.2 423.1,246.2 419.1,242.2" fill="none" stroke="#555" stroke-width="0.9"/>
<polygon points="423.1,240.7 427.1,244.7 423.1,248.7 419.1,244.7" fill="none" stroke="#555" stroke-width="0.9"/>
<polygon points="423.1,254.6 427.1,258.6 423.1,262.6 419.1,258.6" fill="none" stroke="#555" stroke-width="0.9"/>
<polygon points="423.3,267.7 427.3,271.7 423.3,275.7 419.3,271.7" fill="none" stroke="#555" stroke-width="0.9"/>
<ellipse cx="423.3" cy="271.7" rx="1.1" ry="3.4" fill="#fff"/><rect x="422" y="271.2" width="2.6" height="1" fill="#777"/>
<polygon points="696.4,170.0 700.4,174.0 696.4,178.0 692.4,174.0" fill="none" stroke="#555" stroke-width="0.9"/>
<polygon points="696.4,187.5 700.4,191.5 696.4,195.5 692.4,191.5" fill="none" stroke="#555" stroke-width="0.9"/>
<polygon points="696.4,209.7 700.4,213.7 696.4,217.7 692.4,213.7" fill="none" stroke="#555" stroke-width="0.9"/>
<polygon points="696.4,214.0 700.4,218.0 696.4,222.0 692.4,218.0" fill="none" stroke="#555" stroke-width="0.9"/>
<polygon points="696.4,215.3 700.4,219.3 696.4,223.3 692.4,219.3" fill="none" stroke="#555" stroke-width="0.9"/>
<polygon points="696.4,216.7 700.4,220.7 696.4,224.7 692.4,220.7" fill="none" stroke="#555" stroke-width="0.9"/>
<polygon points="696.4,218.1 700.4,222.1 696.4,226.1 692.4,222.1" fill="none" stroke="#555" stroke-width="0.9"/>
<polygon points="696.4,219.4 700.4,223.4 696.4,227.4 692.4,223.4" fill="none" stroke="#555" stroke-width="0.9"/>
<polygon points="696.4,220.8 700.4,224.8 696.4,228.8 692.4,224.8" fill="none" stroke="#555" stroke-width="0.9"/>
<polygon points="696.4,222.1 700.4,226.1 696.4,230.1 692.4,226.1" fill="none" stroke="#555" stroke-width="0.9"/>
<polygon points="696.4,223.4 700.4,227.4 696.4,231.4 692.4,227.4" fill="none" stroke="#555" stroke-width="0.9"/>
<polygon points="696.4,224.8 700.4,228.8 696.4,232.8 692.4,228.8" fill="none" stroke="#555" stroke-width="0.9"/>
<polygon points="696.4,226.2 700.4,230.2 696.4,234.2 692.4,230.2" fill="none" stroke="#555" stroke-width="0.9"/>
<polygon points="696.4,227.5 700.4,231.5 696.4,235.5 692.4,231.5" fill="none" stroke="#555" stroke-width="0.9"/>
<polygon points="696.4,228.8 700.4,232.8 696.4,236.8 692.4,232.8" fill="none" stroke="#555" stroke-width="0.9"/>
<polygon points="696.4,230.2 700.4,234.2 696.4,238.2 692.4,234.2" fill="none" stroke="#555" stroke-width="0.9"/>
<polygon points="696.4,231.6 700.4,235.6 696.4,239.6 692.4,235.6" fill="none" stroke="#555" stroke-width="0.9"/>
<polygon points="696.4,232.9 700.4,236.9 696.4,240.9 692.4,236.9" fill="none" stroke="#555" stroke-width="0.9"/>
<polygon points="696.4,234.2 700.4,238.2 696.4,242.2 692.4,238.2" fill="none" stroke="#555" stroke-width="0.9"/>
<polygon points="696.4,235.6 700.4,239.6 696.4,243.6 692.4,239.6" fill="none" stroke="#555" stroke-width="0.9"/>
<polygon points="696.4,246.2 700.4,250.2 696.4,254.2 692.4,250.2" fill="none" stroke="#555" stroke-width="0.9"/>
<polygon points="696.4,250.5 700.4,254.5 696.4,258.5 692.4,254.5" fill="none" stroke="#555" stroke-width="0.9"/>
<polygon points="696.4,267.7 700.4,271.7 696.4,275.7 692.4,271.7" fill="none" stroke="#555" stroke-width="0.9"/>
<ellipse cx="696.4" cy="271.7" rx="1.1" ry="3.4" fill="#fff"/><rect x="695.1" y="271.2" width="2.6" height="1" fill="#777"/>
<line x1="414.5" y1="170" x2="707" y2="170" stroke="#444" stroke-width="1.1" stroke-dasharray="3.4 2.2"/>
<line x1="546.4" y1="29" x2="546.4" y2="281" stroke="#222" stroke-width="1" stroke-dasharray="3.5 2.1"/>
<line x1="573.4" y1="29" x2="573.4" y2="281" stroke="#222" stroke-width="1" stroke-dasharray="3.5 2.1"/>
</svg>
<g fill="#111">
<rect x="48.5" y="27.5" width="295" height="254" fill="none" stroke="#333" stroke-width="1"/>
<rect x="412.5" y="27.5" width="295" height="254" fill="none" stroke="#333" stroke-width="1"/>
<line x1="41" y1="36.5" x2="48" y2="36.5" stroke="#333"/>
<text transform="translate(32,36.5) rotate(-90)" text-anchor="middle" font-size="11.3">10</text>
<line x1="41" y1="95.5" x2="48" y2="95.5" stroke="#333"/>
<text transform="translate(32,95.3) rotate(-90)" text-anchor="middle" font-size="11.3">5</text>
<line x1="41" y1="154.5" x2="48" y2="154.5" stroke="#333"/>
<text transform="translate(32,154.2) rotate(-90)" text-anchor="middle" font-size="11.3">0</text>
<line x1="41" y1="213.5" x2="48" y2="213.5" stroke="#333"/>
<text transform="translate(32,213.0) rotate(-90)" text-anchor="middle" font-size="11.3">-5</text>
<line x1="41" y1="271.5" x2="48" y2="271.5" stroke="#333"/>
<text transform="translate(32,271.9) rotate(-90)" text-anchor="middle" font-size="11.3">-10</text>
<line x1="59.5" y1="282" x2="59.5" y2="289" stroke="#333"/>
<text x="59.5" y="306" text-anchor="middle" font-size="11.3">0</text>
<line x1="116.5" y1="282" x2="116.5" y2="289" stroke="#333"/>
<text x="116.5" y="306" text-anchor="middle" font-size="11.3">2</text>
<line x1="173.5" y1="282" x2="173.5" y2="289" stroke="#333"/>
<text x="173.5" y="306" text-anchor="middle" font-size="11.3">4</text>
<line x1="230.5" y1="282" x2="230.5" y2="289" stroke="#333"/>
<text x="230.5" y="306" text-anchor="middle" font-size="11.3">6</text>
<line x1="287.5" y1="282" x2="287.5" y2="289" stroke="#333"/>
<text x="287.5" y="306" text-anchor="middle" font-size="11.3">8</text>
<line x1="405" y1="271.5" x2="412" y2="271.5" stroke="#333"/>
<text transform="translate(395.5,271.8) rotate(-90)" text-anchor="middle" font-size="11.3">0.0</text>
<line x1="405" y1="232.5" x2="412" y2="232.5" stroke="#333"/>
<text transform="translate(395.5,232.5) rotate(-90)" text-anchor="middle" font-size="11.3">0.5</text>
<line x1="405" y1="193.5" x2="412" y2="193.5" stroke="#333"/>
<text transform="translate(395.5,193.3) rotate(-90)" text-anchor="middle" font-size="11.3">1.0</text>
<line x1="405" y1="154.5" x2="412" y2="154.5" stroke="#333"/>
<text transform="translate(395.5,154.1) rotate(-90)" text-anchor="middle" font-size="11.3">1.5</text>
<line x1="405" y1="114.5" x2="412" y2="114.5" stroke="#333"/>
<text transform="translate(395.5,114.9) rotate(-90)" text-anchor="middle" font-size="11.3">2.0</text>
<line x1="405" y1="75.5" x2="412" y2="75.5" stroke="#333"/>
<text transform="translate(395.5,75.7) rotate(-90)" text-anchor="middle" font-size="11.3">2.5</text>
<line x1="405" y1="36.5" x2="412" y2="36.5" stroke="#333"/>
<text transform="translate(395.5,36.4) rotate(-90)" text-anchor="middle" font-size="11.3">3.0</text>
<line x1="423.5" y1="282" x2="423.5" y2="289" stroke="#333"/>
<text x="423.1" y="306" text-anchor="middle" font-size="11.3">-10</text>
<line x1="491.5" y1="282" x2="491.5" y2="289" stroke="#333"/>
<text x="491.4" y="306" text-anchor="middle" font-size="11.3">-5</text>
<line x1="559.5" y1="282" x2="559.5" y2="289" stroke="#8a8a8a"/>
<text x="559.8" y="306" text-anchor="middle" font-size="11.3">0</text>
<line x1="628.5" y1="282" x2="628.5" y2="289" stroke="#333"/>
<text x="628.1" y="306" text-anchor="middle" font-size="11.3">5</text>
<line x1="696.5" y1="282" x2="696.5" y2="289" stroke="#333"/>
<text x="696.4" y="306" text-anchor="middle" font-size="11.3">10</text>
<text x="192" y="13" text-anchor="middle" font-size="17">MA plot</text>
<text x="559" y="13" text-anchor="middle" font-size="17">Volcano plot</text>
<text x="199" y="327.8" text-anchor="middle" font-size="13.3">Mean of normalized mapped reads</text>
<text x="560" y="326.6" text-anchor="middle" font-size="13.3" textLength="107.5" lengthAdjust="spacing">log<tspan font-size="9.2" dy="3.3">2</tspan><tspan dy="-3.3">(fold change)</tspan></text>
<text transform="translate(10.9,153.7) rotate(-90)" text-anchor="middle" font-size="13.3" textLength="107" lengthAdjust="spacing">log<tspan font-size="9.2" dy="3.3">2</tspan><tspan dy="-3.3">(fold change)</tspan></text>
<text transform="translate(375,154.5) rotate(-90)" text-anchor="middle" font-size="13.3" textLength="91" lengthAdjust="spacing">-log<tspan font-size="9.2" dy="3.3">10</tspan><tspan dy="-3.3">(</tspan><tspan font-style="italic">q</tspan>-value)</text>
</g>
</svg>
</body></html>
